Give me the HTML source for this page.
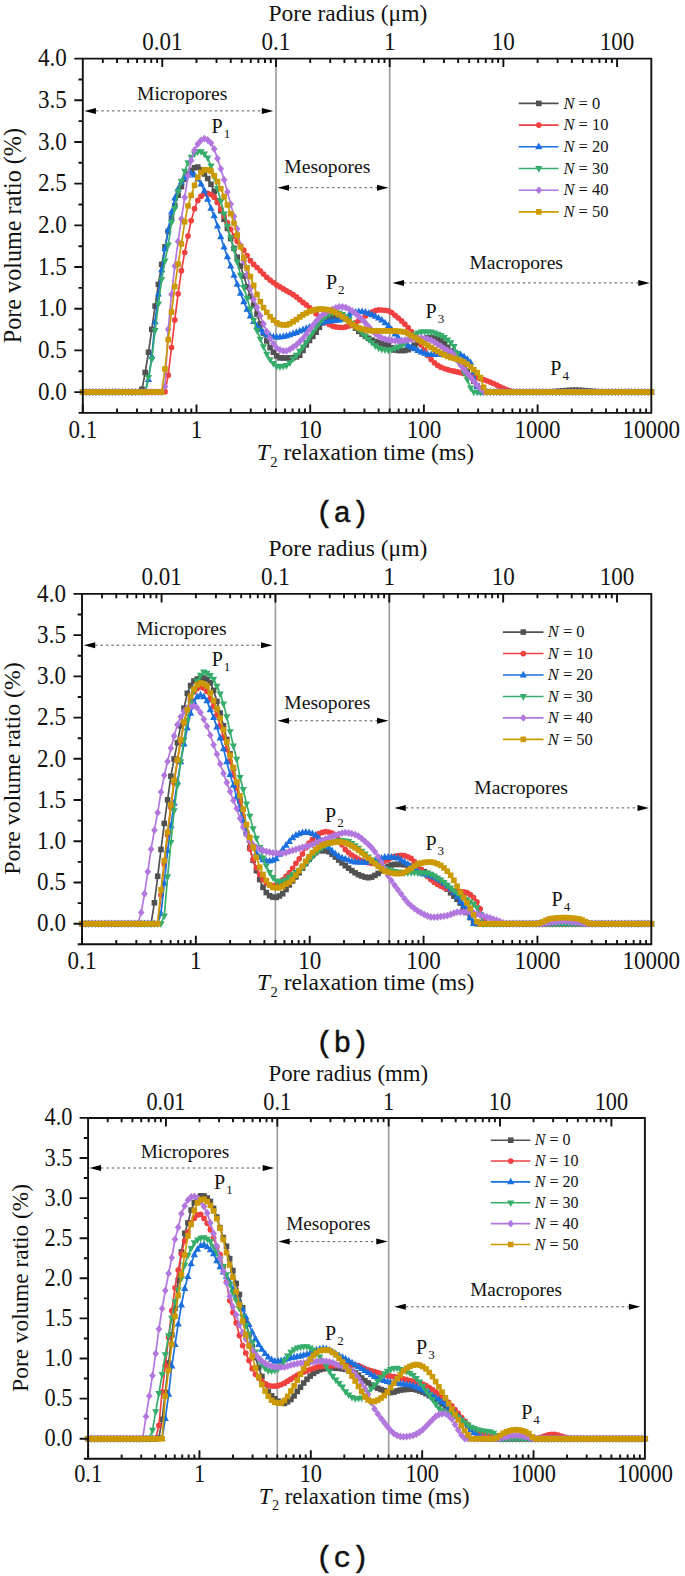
<!DOCTYPE html>
<html><head><meta charset="utf-8"><style>
html,body{margin:0;padding:0;background:#fff;}
svg{display:block;}
</style></head><body>
<svg width="685" height="1576" viewBox="0 0 685 1576">
<defs>
<marker id="m0" markerUnits="userSpaceOnUse" markerWidth="10" markerHeight="10" viewBox="-5 -5 10 10" refX="0" refY="0" overflow="visible"><g fill="#515151"><rect x="-2.8" y="-2.8" width="5.6" height="5.6"/></g></marker>
<marker id="m1" markerUnits="userSpaceOnUse" markerWidth="10" markerHeight="10" viewBox="-5 -5 10 10" refX="0" refY="0" overflow="visible"><g fill="#F14040"><circle r="2.85"/></g></marker>
<marker id="m2" markerUnits="userSpaceOnUse" markerWidth="10" markerHeight="10" viewBox="-5 -5 10 10" refX="0" refY="0" overflow="visible"><g fill="#1A6FDF"><path d="M0,-4.2 L3.6,2.4 L-3.6,2.4Z"/></g></marker>
<marker id="m3" markerUnits="userSpaceOnUse" markerWidth="10" markerHeight="10" viewBox="-5 -5 10 10" refX="0" refY="0" overflow="visible"><g fill="#37AD6B"><path d="M0,4.2 L3.6,-2.4 L-3.6,-2.4Z"/></g></marker>
<marker id="m4" markerUnits="userSpaceOnUse" markerWidth="10" markerHeight="10" viewBox="-5 -5 10 10" refX="0" refY="0" overflow="visible"><g fill="#B177DE"><path d="M0,-3.9 L3.3,0 L0,3.9 L-3.3,0Z"/></g></marker>
<marker id="m5" markerUnits="userSpaceOnUse" markerWidth="10" markerHeight="10" viewBox="-5 -5 10 10" refX="0" refY="0" overflow="visible"><g fill="#CC9900"><rect x="-2.8" y="-2.8" width="5.6" height="5.6"/></g></marker>
<symbol id="s0" overflow="visible"><g fill="#515151"><rect x="-2.8" y="-2.8" width="5.6" height="5.6"/></g></symbol><symbol id="s1" overflow="visible"><g fill="#F14040"><circle r="2.85"/></g></symbol><symbol id="s2" overflow="visible"><g fill="#1A6FDF"><path d="M0,-4.2 L3.6,2.4 L-3.6,2.4Z"/></g></symbol><symbol id="s3" overflow="visible"><g fill="#37AD6B"><path d="M0,4.2 L3.6,-2.4 L-3.6,-2.4Z"/></g></symbol><symbol id="s4" overflow="visible"><g fill="#B177DE"><path d="M0,-3.9 L3.3,0 L0,3.9 L-3.3,0Z"/></g></symbol><symbol id="s5" overflow="visible"><g fill="#CC9900"><rect x="-2.8" y="-2.8" width="5.6" height="5.6"/></g></symbol>
</defs>
<rect width="685" height="1576" fill="#fff"/>
<line x1="275.97" y1="58.6" x2="275.97" y2="412.9" stroke="#999" stroke-width="1.6"/>
<line x1="389.67" y1="58.6" x2="389.67" y2="412.9" stroke="#999" stroke-width="1.6"/>
<polyline points="82.8,392.1 86.1,392.1 89.4,392.1 92.7,392.1 95.9,392.1 99.2,392.1 102.5,392.1 105.8,392.1 109.1,392.1 112.4,392.1 115.7,392.1 118.9,392.1 122.2,392.1 125.5,392.1 128.8,392.1 132.1,392.1 135.4,392.1 138.7,392.1 142.0,389.2 145.2,372.5 148.5,352.3 151.8,329.4 155.1,306.1 158.4,284.4 161.7,264.4 165.0,246.9 168.2,231.4 171.5,218.0 174.8,205.8 178.1,195.2 181.4,186.6 184.7,179.3 188.0,174.0 191.2,170.4 194.5,167.7 197.8,167.1 201.1,169.7 204.4,174.0 207.7,178.5 211.0,184.3 214.2,191.4 217.5,201.0 220.8,210.7 224.1,219.3 227.4,228.4 230.7,238.6 234.0,248.4 237.2,257.2 240.5,266.0 243.8,276.0 247.1,286.8 250.4,296.5 253.7,305.3 257.0,314.1 260.3,323.9 263.5,333.1 266.8,340.9 270.1,347.6 273.4,352.2 276.7,355.9 280.0,357.9 283.3,358.0 286.5,358.0 289.8,358.0 293.1,357.7 296.4,356.9 299.7,355.2 303.0,350.4 306.3,344.9 309.5,340.5 312.8,336.4 316.1,332.2 319.4,327.3 322.7,322.9 326.0,320.2 329.3,318.1 332.5,316.9 335.8,316.9 339.1,317.0 342.4,317.3 345.7,319.3 349.0,322.2 352.3,324.9 355.5,328.1 358.8,331.4 362.1,334.1 365.4,336.3 368.7,338.3 372.0,340.1 375.3,341.5 378.6,342.6 381.8,343.5 385.1,344.4 388.4,345.6 391.7,347.8 395.0,350.0 398.3,350.5 401.6,350.5 404.8,350.5 408.1,349.7 411.4,347.6 414.7,345.1 418.0,343.0 421.3,341.1 424.6,339.2 427.8,337.8 431.1,337.5 434.4,338.1 437.7,339.1 441.0,340.5 444.3,343.3 447.6,347.2 450.8,350.9 454.1,354.8 457.4,358.8 460.7,362.9 464.0,367.0 467.3,371.3 470.6,375.8 473.8,381.1 477.1,386.0 480.4,389.7 483.7,392.1 487.0,392.1 490.3,392.1 493.6,392.1 496.9,392.1 500.1,392.1 503.4,392.1 506.7,392.1 510.0,392.1 513.3,392.1 516.6,392.1 519.9,392.1 523.1,392.1 526.4,392.1 529.7,392.1 533.0,392.1 536.3,392.1 539.6,392.1 542.9,392.1 546.1,392.1 549.4,392.0 552.7,391.8 556.0,391.5 559.3,391.2 562.6,390.9 565.9,390.6 569.1,390.4 572.4,390.2 575.7,390.2 579.0,390.3 582.3,390.5 585.6,390.7 588.9,391.0 592.1,391.4 595.4,391.6 598.7,391.9 602.0,392.0 605.3,392.1 608.6,392.1 611.9,392.1 615.2,392.1 618.4,392.1 621.7,392.1 625.0,392.1 628.3,392.1 631.6,392.1 634.9,392.1 638.2,392.1 641.4,392.1 644.7,392.1 648.0,392.1 651.3,392.1" fill="none" stroke="#515151" stroke-width="1.7" marker-start="url(#m0)" marker-mid="url(#m0)" marker-end="url(#m0)"/>
<polyline points="82.8,392.1 86.1,392.1 89.4,392.1 92.7,392.1 95.9,392.1 99.2,392.1 102.5,392.1 105.8,392.1 109.1,392.1 112.4,392.1 115.7,392.1 118.9,392.1 122.2,392.1 125.5,392.1 128.8,392.1 132.1,392.1 135.4,392.1 138.7,392.1 142.0,392.1 145.2,392.1 148.5,392.1 151.8,392.1 155.1,392.1 158.4,392.1 161.7,392.1 165.0,391.7 168.2,375.2 171.5,347.5 174.8,319.9 178.1,293.8 181.4,270.7 184.7,252.5 188.0,236.0 191.2,220.6 194.5,208.7 197.8,200.4 201.1,196.2 204.4,193.6 207.7,193.4 211.0,194.5 214.2,197.2 217.5,202.4 220.8,209.2 224.1,215.9 227.4,222.5 230.7,229.3 234.0,236.2 237.2,241.3 240.5,245.6 243.8,250.1 247.1,255.5 250.4,260.7 253.7,264.4 257.0,267.5 260.3,270.8 263.5,274.1 266.8,277.3 270.1,280.1 273.4,282.6 276.7,284.9 280.0,286.9 283.3,288.9 286.5,290.8 289.8,292.6 293.1,294.6 296.4,296.9 299.7,299.7 303.0,302.4 306.3,304.9 309.5,307.5 312.8,310.4 316.1,313.7 319.4,316.8 322.7,319.9 326.0,322.5 329.3,324.5 332.5,326.1 335.8,326.9 339.1,327.3 342.4,327.5 345.7,326.9 349.0,325.9 352.3,324.6 355.5,322.7 358.8,320.6 362.1,318.5 365.4,316.0 368.7,313.6 372.0,312.0 375.3,310.7 378.6,309.9 381.8,310.0 385.1,310.3 388.4,310.8 391.7,312.5 395.0,315.3 398.3,318.0 401.6,320.9 404.8,324.1 408.1,327.7 411.4,331.5 414.7,335.6 418.0,340.2 421.3,345.0 424.6,350.2 427.8,355.4 431.1,359.5 434.4,362.8 437.7,365.4 441.0,367.2 444.3,368.5 447.6,369.6 450.8,370.5 454.1,371.2 457.4,371.9 460.7,372.7 464.0,373.4 467.3,374.3 470.6,375.3 473.8,376.5 477.1,377.7 480.4,378.7 483.7,379.7 487.0,380.8 490.3,382.1 493.6,383.5 496.9,385.1 500.1,386.9 503.4,388.3 506.7,389.7 510.0,390.9 513.3,391.5 516.6,391.9 519.9,392.1 523.1,392.1 526.4,392.1 529.7,392.1 533.0,392.1 536.3,392.1 539.6,392.1 542.9,392.1 546.1,392.1 549.4,392.1 552.7,392.1 556.0,392.1 559.3,392.1 562.6,392.1 565.9,392.1 569.1,392.1 572.4,392.1 575.7,392.1 579.0,392.1 582.3,392.1 585.6,392.1 588.9,392.1 592.1,392.1 595.4,392.1 598.7,392.1 602.0,392.1 605.3,392.1 608.6,392.1 611.9,392.1 615.2,392.1 618.4,392.1 621.7,392.1 625.0,392.1 628.3,392.1 631.6,392.1 634.9,392.1 638.2,392.1 641.4,392.1 644.7,392.1 648.0,392.1 651.3,392.1" fill="none" stroke="#F14040" stroke-width="1.7" marker-start="url(#m1)" marker-mid="url(#m1)" marker-end="url(#m1)"/>
<polyline points="82.8,392.1 86.1,392.1 89.4,392.1 92.7,392.1 95.9,392.1 99.2,392.1 102.5,392.1 105.8,392.1 109.1,392.1 112.4,392.1 115.7,392.1 118.9,392.1 122.2,392.1 125.5,392.1 128.8,392.1 132.1,392.1 135.4,392.1 138.7,392.1 142.0,392.1 145.2,392.0 148.5,379.7 151.8,356.5 155.1,321.9 158.4,294.1 161.7,269.9 165.0,248.8 168.2,229.8 171.5,212.1 174.8,198.2 178.1,189.0 181.4,182.2 184.7,177.9 188.0,175.1 191.2,173.6 194.5,175.0 197.8,179.1 201.1,184.1 204.4,190.8 207.7,199.4 211.0,208.4 214.2,215.9 217.5,226.2 220.8,236.9 224.1,247.2 227.4,256.9 230.7,266.2 234.0,275.4 237.2,284.4 240.5,293.4 243.8,301.8 247.1,309.4 250.4,316.0 253.7,321.6 257.0,326.3 260.3,329.8 263.5,332.6 266.8,334.7 270.1,335.9 273.4,336.9 276.7,337.2 280.0,337.0 283.3,336.5 286.5,335.9 289.8,334.9 293.1,333.7 296.4,332.5 299.7,331.2 303.0,329.8 306.3,328.5 309.5,327.2 312.8,325.9 316.1,324.4 319.4,323.2 322.7,322.4 326.0,321.7 329.3,321.2 332.5,320.9 335.8,320.6 339.1,320.1 342.4,319.1 345.7,317.6 349.0,315.1 352.3,312.8 355.5,312.1 358.8,311.7 362.1,311.6 365.4,312.2 368.7,313.5 372.0,314.8 375.3,316.3 378.6,318.1 381.8,320.2 385.1,322.9 388.4,325.9 391.7,329.7 395.0,334.0 398.3,337.7 401.6,341.0 404.8,343.6 408.1,345.5 411.4,347.1 414.7,348.9 418.0,350.5 421.3,352.0 424.6,353.3 427.8,354.4 431.1,354.7 434.4,354.7 437.7,354.6 441.0,354.4 444.3,353.9 447.6,353.2 450.8,353.0 454.1,353.3 457.4,353.7 460.7,354.7 464.0,356.8 467.3,359.3 470.6,362.7 473.8,372.4 477.1,386.6 480.4,392.1 483.7,392.1 487.0,392.1 490.3,392.1 493.6,392.1 496.9,392.1 500.1,392.1 503.4,392.1 506.7,392.1 510.0,392.1 513.3,392.1 516.6,392.1 519.9,392.1 523.1,392.1 526.4,392.1 529.7,392.1 533.0,392.1 536.3,392.1 539.6,392.1 542.9,392.1 546.1,392.1 549.4,392.1 552.7,392.1 556.0,392.1 559.3,392.1 562.6,392.1 565.9,392.1 569.1,392.1 572.4,392.1 575.7,392.1 579.0,392.1 582.3,392.1 585.6,392.1 588.9,392.1 592.1,392.1 595.4,392.1 598.7,392.1 602.0,392.1 605.3,392.1 608.6,392.1 611.9,392.1 615.2,392.1 618.4,392.1 621.7,392.1 625.0,392.1 628.3,392.1 631.6,392.1 634.9,392.1 638.2,392.1 641.4,392.1 644.7,392.1 648.0,392.1 651.3,392.1" fill="none" stroke="#1A6FDF" stroke-width="1.7" marker-start="url(#m2)" marker-mid="url(#m2)" marker-end="url(#m2)"/>
<polyline points="82.8,392.1 86.1,392.1 89.4,392.1 92.7,392.1 95.9,392.1 99.2,392.1 102.5,392.1 105.8,392.1 109.1,392.1 112.4,392.1 115.7,392.1 118.9,392.1 122.2,392.1 125.5,392.1 128.8,392.1 132.1,392.1 135.4,392.1 138.7,392.1 142.0,392.1 145.2,391.9 148.5,377.5 151.8,359.2 155.1,330.5 158.4,303.9 161.7,279.4 165.0,260.8 168.2,245.0 171.5,222.5 174.8,208.5 178.1,191.5 181.4,181.2 184.7,171.1 188.0,162.7 191.2,157.2 194.5,153.8 197.8,151.7 201.1,151.6 204.4,154.0 207.7,157.9 211.0,165.9 214.2,176.8 217.5,188.7 220.8,201.3 224.1,213.8 227.4,226.2 230.7,237.9 234.0,249.4 237.2,261.8 240.5,275.2 243.8,287.4 247.1,298.2 250.4,308.9 253.7,320.2 257.0,330.5 260.3,339.1 263.5,346.7 266.8,354.1 270.1,359.6 273.4,363.5 276.7,366.2 280.0,366.7 283.3,366.2 286.5,365.5 289.8,362.8 293.1,358.9 296.4,355.2 299.7,351.2 303.0,347.0 306.3,342.1 309.5,337.0 312.8,332.2 316.1,327.3 319.4,322.9 322.7,319.0 326.0,316.0 329.3,314.1 332.5,313.0 335.8,313.0 339.1,313.2 342.4,314.5 345.7,316.8 349.0,319.6 352.3,323.1 355.5,326.3 358.8,329.6 362.1,332.9 365.4,336.3 368.7,339.5 372.0,342.6 375.3,345.7 378.6,348.1 381.8,349.2 385.1,349.9 388.4,350.2 391.7,349.6 395.0,348.4 398.3,347.0 401.6,345.4 404.8,343.2 408.1,340.0 411.4,336.8 414.7,334.6 418.0,332.8 421.3,332.0 424.6,331.9 427.8,331.9 431.1,332.0 434.4,332.8 437.7,334.1 441.0,335.5 444.3,337.4 447.6,339.8 450.8,342.6 454.1,346.4 457.4,353.3 460.7,362.9 464.0,372.6 467.3,379.6 470.6,387.8 473.8,392.1 477.1,392.1 480.4,392.1 483.7,392.1 487.0,392.1 490.3,392.1 493.6,392.1 496.9,392.1 500.1,392.1 503.4,392.1 506.7,392.1 510.0,392.1 513.3,392.1 516.6,392.1 519.9,392.1 523.1,392.1 526.4,392.1 529.7,392.1 533.0,392.1 536.3,392.1 539.6,392.1 542.9,392.1 546.1,392.1 549.4,392.1 552.7,392.1 556.0,392.1 559.3,392.1 562.6,392.1 565.9,392.1 569.1,392.1 572.4,392.1 575.7,392.1 579.0,392.1 582.3,392.1 585.6,392.1 588.9,392.1 592.1,392.1 595.4,392.1 598.7,392.1 602.0,392.1 605.3,392.1 608.6,392.1 611.9,392.1 615.2,392.1 618.4,392.1 621.7,392.1 625.0,392.1 628.3,392.1 631.6,392.1 634.9,392.1 638.2,392.1 641.4,392.1 644.7,392.1 648.0,392.1 651.3,392.1" fill="none" stroke="#37AD6B" stroke-width="1.7" marker-start="url(#m3)" marker-mid="url(#m3)" marker-end="url(#m3)"/>
<polyline points="82.8,392.1 86.1,392.1 89.4,392.1 92.7,392.1 95.9,392.1 99.2,392.1 102.5,392.1 105.8,392.1 109.1,392.1 112.4,392.1 115.7,392.1 118.9,392.1 122.2,392.1 125.5,392.1 128.8,392.1 132.1,392.1 135.4,392.1 138.7,392.1 142.0,392.1 145.2,392.1 148.5,392.1 151.8,392.1 155.1,392.1 158.4,392.1 161.7,392.1 165.0,386.4 168.2,329.5 171.5,294.4 174.8,266.1 178.1,241.5 181.4,219.0 184.7,197.4 188.0,175.7 191.2,160.4 194.5,150.2 197.8,144.0 201.1,140.3 204.4,138.6 207.7,140.0 211.0,143.1 214.2,149.0 217.5,158.6 220.8,168.8 224.1,179.8 227.4,191.9 230.7,204.1 234.0,216.3 237.2,228.9 240.5,245.5 243.8,261.3 247.1,275.0 250.4,288.6 253.7,299.3 257.0,307.5 260.3,315.7 263.5,324.0 266.8,331.6 270.1,338.5 273.4,343.7 276.7,347.9 280.0,349.9 283.3,350.9 286.5,350.9 289.8,349.4 293.1,347.2 296.4,344.8 299.7,341.7 303.0,338.3 306.3,334.2 309.5,329.7 312.8,325.4 316.1,321.2 319.4,317.5 322.7,314.7 326.0,312.5 329.3,310.8 332.5,309.3 335.8,307.8 339.1,306.8 342.4,307.0 345.7,307.5 349.0,309.1 352.3,311.1 355.5,313.5 358.8,316.3 362.1,319.5 365.4,323.0 368.7,326.6 372.0,330.5 375.3,333.7 378.6,336.1 381.8,338.0 385.1,339.2 388.4,339.9 391.7,340.4 395.0,340.7 398.3,341.0 401.6,340.9 404.8,340.5 408.1,339.8 411.4,339.3 414.7,338.7 418.0,338.2 421.3,338.0 424.6,338.3 427.8,339.1 431.1,340.2 434.4,342.1 437.7,344.3 441.0,346.3 444.3,348.4 447.6,350.3 450.8,351.8 454.1,354.9 457.4,360.5 460.7,365.2 464.0,369.5 467.3,373.6 470.6,377.4 473.8,381.2 477.1,385.2 480.4,388.7 483.7,391.6 487.0,392.1 490.3,392.1 493.6,392.1 496.9,392.1 500.1,392.1 503.4,392.1 506.7,392.1 510.0,392.1 513.3,392.1 516.6,392.1 519.9,392.1 523.1,392.1 526.4,392.1 529.7,392.1 533.0,392.1 536.3,392.1 539.6,392.1 542.9,392.1 546.1,392.1 549.4,392.1 552.7,392.1 556.0,392.1 559.3,392.1 562.6,392.1 565.9,392.1 569.1,392.1 572.4,392.1 575.7,392.1 579.0,392.1 582.3,392.1 585.6,392.1 588.9,392.1 592.1,392.1 595.4,392.1 598.7,392.1 602.0,392.1 605.3,392.1 608.6,392.1 611.9,392.1 615.2,392.1 618.4,392.1 621.7,392.1 625.0,392.1 628.3,392.1 631.6,392.1 634.9,392.1 638.2,392.1 641.4,392.1 644.7,392.1 648.0,392.1 651.3,392.1" fill="none" stroke="#B177DE" stroke-width="1.7" marker-start="url(#m4)" marker-mid="url(#m4)" marker-end="url(#m4)"/>
<polyline points="82.8,392.1 86.1,392.1 89.4,392.1 92.7,392.1 95.9,392.1 99.2,392.1 102.5,392.1 105.8,392.1 109.1,392.1 112.4,392.1 115.7,392.1 118.9,392.1 122.2,392.1 125.5,392.1 128.8,392.1 132.1,392.1 135.4,392.1 138.7,392.1 142.0,392.1 145.2,392.1 148.5,392.1 151.8,392.1 155.1,392.1 158.4,392.1 161.7,392.1 165.0,369.0 168.2,339.6 171.5,312.1 174.8,286.6 178.1,264.1 181.4,243.9 184.7,221.8 188.0,205.9 191.2,195.4 194.5,185.3 197.8,177.3 201.1,172.4 204.4,169.8 207.7,169.8 211.0,171.1 214.2,175.7 217.5,181.5 220.8,188.7 224.1,196.5 227.4,204.9 230.7,213.8 234.0,223.4 237.2,235.2 240.5,246.9 243.8,257.9 247.1,267.8 250.4,276.6 253.7,285.4 257.0,294.5 260.3,301.7 263.5,307.6 266.8,312.4 270.1,316.7 273.4,320.1 276.7,322.8 280.0,324.5 283.3,324.9 286.5,325.0 289.8,323.7 293.1,321.7 296.4,319.6 299.7,317.0 303.0,314.8 306.3,313.0 309.5,311.4 312.8,310.4 316.1,309.5 319.4,309.0 322.7,309.1 326.0,309.5 329.3,310.0 332.5,311.1 335.8,312.8 339.1,314.6 342.4,316.7 345.7,319.0 349.0,321.9 352.3,324.4 355.5,326.5 358.8,327.9 362.1,329.0 365.4,329.8 368.7,330.4 372.0,330.8 375.3,330.9 378.6,330.9 381.8,330.9 385.1,330.9 388.4,330.9 391.7,330.9 395.0,331.0 398.3,331.2 401.6,331.6 404.8,332.1 408.1,333.7 411.4,335.7 414.7,337.5 418.0,339.5 421.3,341.5 424.6,343.5 427.8,345.5 431.1,347.5 434.4,349.5 437.7,351.4 441.0,353.2 444.3,354.9 447.6,356.4 450.8,357.5 454.1,358.4 457.4,359.4 460.7,360.7 464.0,362.2 467.3,364.2 470.6,366.8 473.8,369.8 477.1,372.7 480.4,377.6 483.7,387.3 487.0,392.1 490.3,392.1 493.6,392.1 496.9,392.1 500.1,392.1 503.4,392.1 506.7,392.1 510.0,392.1 513.3,392.1 516.6,392.1 519.9,392.1 523.1,392.1 526.4,392.1 529.7,392.1 533.0,392.1 536.3,392.1 539.6,392.1 542.9,392.1 546.1,392.1 549.4,392.1 552.7,392.1 556.0,392.1 559.3,392.1 562.6,392.1 565.9,392.1 569.1,392.1 572.4,392.1 575.7,392.1 579.0,392.1 582.3,392.1 585.6,392.1 588.9,392.1 592.1,392.1 595.4,392.1 598.7,392.1 602.0,392.1 605.3,392.1 608.6,392.1 611.9,392.1 615.2,392.1 618.4,392.1 621.7,392.1 625.0,392.1 628.3,392.1 631.6,392.1 634.9,392.1 638.2,392.1 641.4,392.1 644.7,392.1 648.0,392.1 651.3,392.1" fill="none" stroke="#CC9900" stroke-width="1.7" marker-start="url(#m5)" marker-mid="url(#m5)" marker-end="url(#m5)"/>
<path d="M82.8,58.6H651.3V412.9H82.8Z" fill="none" stroke="#111" stroke-width="1.9"/>
<path d="M78.5,412.9H82.8M74.3,392.1H82.8M78.5,371.25H82.8M74.3,350.41H82.8M78.5,329.57H82.8M74.3,308.72H82.8M78.5,287.88H82.8M74.3,267.03H82.8M78.5,246.19H82.8M74.3,225.34H82.8M78.5,204.5H82.8M74.3,183.65H82.8M78.5,162.81H82.8M74.3,141.96H82.8M78.5,121.12H82.8M74.3,100.27H82.8M78.5,79.43H82.8M74.3,58.58H82.8M82.8,412.9v-8.5M117.03,412.9v-4.3M137.05,412.9v-4.3M151.25,412.9v-4.3M162.27,412.9v-4.3M171.28,412.9v-4.3M178.89,412.9v-4.3M185.48,412.9v-4.3M191.3,412.9v-4.3M196.5,412.9v-8.5M230.73,412.9v-4.3M250.75,412.9v-4.3M264.95,412.9v-4.3M275.97,412.9v-4.3M284.98,412.9v-4.3M292.59,412.9v-4.3M299.18,412.9v-4.3M305,412.9v-4.3M310.2,412.9v-8.5M344.43,412.9v-4.3M364.45,412.9v-4.3M378.65,412.9v-4.3M389.67,412.9v-4.3M398.68,412.9v-4.3M406.29,412.9v-4.3M412.88,412.9v-4.3M418.7,412.9v-4.3M423.9,412.9v-8.5M458.13,412.9v-4.3M478.15,412.9v-4.3M492.35,412.9v-4.3M503.37,412.9v-4.3M512.38,412.9v-4.3M519.99,412.9v-4.3M526.58,412.9v-4.3M532.4,412.9v-4.3M537.6,412.9v-8.5M571.83,412.9v-4.3M591.85,412.9v-4.3M606.05,412.9v-4.3M617.07,412.9v-4.3M626.08,412.9v-4.3M633.69,412.9v-4.3M640.28,412.9v-4.3M646.1,412.9v-4.3M102.82,58.6v4.3M117.03,58.6v4.3M128.05,58.6v4.3M137.05,58.6v4.3M144.66,58.6v4.3M151.25,58.6v4.3M157.07,58.6v4.3M162.27,58.6v8.5M196.5,58.6v4.3M216.52,58.6v4.3M230.73,58.6v4.3M241.75,58.6v4.3M250.75,58.6v4.3M258.36,58.6v4.3M264.95,58.6v4.3M270.77,58.6v4.3M275.97,58.6v8.5M310.2,58.6v4.3M330.22,58.6v4.3M344.43,58.6v4.3M355.45,58.6v4.3M364.45,58.6v4.3M372.06,58.6v4.3M378.65,58.6v4.3M384.47,58.6v4.3M389.67,58.6v8.5M423.9,58.6v4.3M443.92,58.6v4.3M458.13,58.6v4.3M469.15,58.6v4.3M478.15,58.6v4.3M485.76,58.6v4.3M492.35,58.6v4.3M498.17,58.6v4.3M503.37,58.6v8.5M537.6,58.6v4.3M557.62,58.6v4.3M571.83,58.6v4.3M582.85,58.6v4.3M591.85,58.6v4.3M599.46,58.6v4.3M606.05,58.6v4.3M611.87,58.6v4.3M617.07,58.6v8.5" stroke="#111" stroke-width="1.9" fill="none"/>
<g style="font-family:'Liberation Serif',serif;font-size:23.5px" fill="#111"><text transform="translate(66.7,399.86) scale(0.98,1.075)" text-anchor="end">0.0</text><text transform="translate(66.7,358.17) scale(0.98,1.075)" text-anchor="end">0.5</text><text transform="translate(66.7,316.48) scale(0.98,1.075)" text-anchor="end">1.0</text><text transform="translate(66.7,274.79) scale(0.98,1.075)" text-anchor="end">1.5</text><text transform="translate(66.7,233.1) scale(0.98,1.075)" text-anchor="end">2.0</text><text transform="translate(66.7,191.41) scale(0.98,1.075)" text-anchor="end">2.5</text><text transform="translate(66.7,149.72) scale(0.98,1.075)" text-anchor="end">3.0</text><text transform="translate(66.7,108.03) scale(0.98,1.075)" text-anchor="end">3.5</text><text transform="translate(66.7,66.34) scale(0.98,1.075)" text-anchor="end">4.0</text><text transform="translate(82.8,438.2) scale(0.98,1.075)" text-anchor="middle">0.1</text><text transform="translate(196.5,438.2) scale(0.98,1.075)" text-anchor="middle">1</text><text transform="translate(310.2,438.2) scale(0.98,1.075)" text-anchor="middle">10</text><text transform="translate(423.9,438.2) scale(0.98,1.075)" text-anchor="middle">100</text><text transform="translate(537.6,438.2) scale(0.98,1.075)" text-anchor="middle">1000</text><text transform="translate(651.3,438.2) scale(0.98,1.075)" text-anchor="middle">10000</text><text transform="translate(162.27,49.6) scale(0.98,1.075)" text-anchor="middle">0.01</text><text transform="translate(275.97,49.6) scale(0.98,1.075)" text-anchor="middle">0.1</text><text transform="translate(389.67,49.6) scale(0.98,1.075)" text-anchor="middle">1</text><text transform="translate(503.37,49.6) scale(0.98,1.075)" text-anchor="middle">10</text><text transform="translate(617.07,49.6) scale(0.98,1.075)" text-anchor="middle">100</text></g>
<text x="268.5" y="20.5" style="font-family:'Liberation Serif',serif;font-size:23.5px" fill="#111">Pore radius (μm)</text>
<text x="256.8" y="460.4" style="font-family:'Liberation Serif',serif;font-size:23.5px" fill="#111"><tspan font-style="italic">T</tspan><tspan font-size="14.57" dy="6.58" dx="0.47">2</tspan><tspan dy="-6.58"> relaxation time (ms)</tspan></text>
<text transform="translate(20.7,342.6) rotate(-90)" x="-0.6" y="0" style="font-family:'Liberation Serif',serif;font-size:24.15px" fill="#111">Pore volume ratio (%)</text>
<text x="137" y="99.8" style="font-family:'Liberation Serif',serif;font-size:19.6px" fill="#111">Micropores</text>
<line x1="95.9" y1="110.9" x2="261.8" y2="110.9" stroke="#555" stroke-width="1.0" stroke-dasharray="2.4 3.0"/>
<path d="M84.4,110.9L95.9,107.9V113.9Z M273.3,110.9L261.8,107.9V113.9Z" fill="#000"/>
<text x="284.3" y="173.1" style="font-family:'Liberation Serif',serif;font-size:19.6px" fill="#111">Mesopores</text>
<line x1="289" y1="187.7" x2="377" y2="187.7" stroke="#555" stroke-width="1.0" stroke-dasharray="2.4 3.0"/>
<path d="M277.5,187.7L289,184.7V190.7Z M388.5,187.7L377,184.7V190.7Z" fill="#000"/>
<text x="469.4" y="269.4" style="font-family:'Liberation Serif',serif;font-size:19.6px" fill="#111">Macropores</text>
<line x1="404" y1="282.9" x2="638.3" y2="282.9" stroke="#555" stroke-width="1.0" stroke-dasharray="2.4 3.0"/>
<path d="M392.5,282.9L404,279.9V285.9Z M649.8,282.9L638.3,279.9V285.9Z" fill="#000"/>
<text x="211.5" y="132.8" style="font-family:'Liberation Serif',serif;font-size:20px" fill="#111">P<tspan font-size="13" dy="5" dx="1">1</tspan></text>
<text x="325.9" y="289.1" style="font-family:'Liberation Serif',serif;font-size:20px" fill="#111">P<tspan font-size="13" dy="5" dx="1">2</tspan></text>
<text x="425.5" y="317.5" style="font-family:'Liberation Serif',serif;font-size:20px" fill="#111">P<tspan font-size="13" dy="5" dx="1">3</tspan></text>
<text x="550.3" y="375.3" style="font-family:'Liberation Serif',serif;font-size:20px" fill="#111">P<tspan font-size="13" dy="5" dx="1">4</tspan></text>
<line x1="518.7" y1="103.4" x2="558.6" y2="103.4" stroke="#515151" stroke-width="1.6"/>
<use href="#s0" x="538.8" y="103.4"/>
<text x="563.4" y="108.68" style="font-family:'Liberation Serif',serif;font-size:16.5px" fill="#111"><tspan font-style="italic">N</tspan> = 0</text>
<line x1="518.7" y1="125.1" x2="558.6" y2="125.1" stroke="#F14040" stroke-width="1.6"/>
<use href="#s1" x="538.8" y="125.1"/>
<text x="563.4" y="130.38" style="font-family:'Liberation Serif',serif;font-size:16.5px" fill="#111"><tspan font-style="italic">N</tspan> = 10</text>
<line x1="518.7" y1="146.8" x2="558.6" y2="146.8" stroke="#1A6FDF" stroke-width="1.6"/>
<use href="#s2" x="538.8" y="146.8"/>
<text x="563.4" y="152.08" style="font-family:'Liberation Serif',serif;font-size:16.5px" fill="#111"><tspan font-style="italic">N</tspan> = 20</text>
<line x1="518.7" y1="168.5" x2="558.6" y2="168.5" stroke="#37AD6B" stroke-width="1.6"/>
<use href="#s3" x="538.8" y="168.5"/>
<text x="563.4" y="173.78" style="font-family:'Liberation Serif',serif;font-size:16.5px" fill="#111"><tspan font-style="italic">N</tspan> = 30</text>
<line x1="518.7" y1="190.2" x2="558.6" y2="190.2" stroke="#B177DE" stroke-width="1.6"/>
<use href="#s4" x="538.8" y="190.2"/>
<text x="563.4" y="195.48" style="font-family:'Liberation Serif',serif;font-size:16.5px" fill="#111"><tspan font-style="italic">N</tspan> = 40</text>
<line x1="518.7" y1="211.9" x2="558.6" y2="211.9" stroke="#CC9900" stroke-width="1.6"/>
<use href="#s5" x="538.8" y="211.9"/>
<text x="563.4" y="217.18" style="font-family:'Liberation Serif',serif;font-size:16.5px" fill="#111"><tspan font-style="italic">N</tspan> = 50</text>
<text x="342.3" y="521.8" text-anchor="middle" style="font-family:'Liberation Mono',monospace;font-size:29.5px" fill="#111" stroke="#111" stroke-width="0.45">(a)</text><line x1="275.44" y1="593.9" x2="275.44" y2="944.3" stroke="#999" stroke-width="1.6"/>
<line x1="389.3" y1="593.9" x2="389.3" y2="944.3" stroke="#999" stroke-width="1.6"/>
<polyline points="82.0,923.7 85.3,923.7 88.6,923.7 91.9,923.7 95.2,923.7 98.5,923.7 101.7,923.7 105.0,923.7 108.3,923.7 111.6,923.7 114.9,923.7 118.2,923.7 121.5,923.7 124.8,923.7 128.1,923.7 131.4,923.7 134.7,923.7 137.9,923.7 141.2,923.7 144.5,923.7 147.8,923.7 151.1,923.7 154.4,902.8 157.7,876.3 161.0,849.5 164.3,823.4 167.6,799.8 170.9,776.2 174.1,759.0 177.4,742.7 180.7,725.9 184.0,708.1 187.3,693.3 190.6,685.5 193.9,681.0 197.2,679.1 200.5,678.3 203.8,678.0 207.0,679.5 210.3,682.8 213.6,690.4 216.9,701.3 220.2,713.1 223.5,725.7 226.8,739.4 230.1,753.9 233.4,768.7 236.7,784.2 240.0,800.7 243.2,817.4 246.5,833.5 249.8,848.0 253.1,860.4 256.4,870.7 259.7,879.6 263.0,887.4 266.3,892.6 269.6,895.7 272.9,897.1 276.2,897.4 279.4,896.0 282.7,893.7 286.0,889.5 289.3,884.9 292.6,880.9 295.9,876.9 299.2,872.7 302.5,868.1 305.8,863.5 309.1,859.2 312.4,855.5 315.6,852.6 318.9,850.7 322.2,850.6 325.5,850.8 328.8,851.7 332.1,854.3 335.4,857.0 338.7,860.0 342.0,862.9 345.3,865.7 348.6,868.2 351.8,870.6 355.1,872.8 358.4,874.7 361.7,876.0 365.0,877.1 368.3,877.7 371.6,877.1 374.9,875.4 378.2,873.4 381.5,870.9 384.7,868.2 388.0,866.4 391.3,865.0 394.6,864.4 397.9,864.4 401.2,864.4 404.5,864.8 407.8,865.5 411.1,866.3 414.4,867.3 417.7,868.6 420.9,870.0 424.2,871.6 427.5,873.3 430.8,875.3 434.1,877.5 437.4,879.9 440.7,882.6 444.0,885.7 447.3,889.2 450.6,892.8 453.9,896.1 457.1,899.4 460.4,903.1 463.7,907.7 467.0,912.5 470.3,917.6 473.6,922.5 476.9,923.7 480.2,923.7 483.5,923.7 486.8,923.7 490.1,923.7 493.3,923.7 496.6,923.7 499.9,923.7 503.2,923.7 506.5,923.7 509.8,923.7 513.1,923.7 516.4,923.7 519.7,923.7 523.0,923.7 526.3,923.7 529.5,923.7 532.8,923.7 536.1,923.7 539.4,923.7 542.7,923.7 546.0,923.7 549.3,923.7 552.6,923.7 555.9,923.7 559.2,923.7 562.4,923.7 565.7,923.7 569.0,923.7 572.3,923.7 575.6,923.7 578.9,923.7 582.2,923.7 585.5,923.7 588.8,923.7 592.1,923.7 595.4,923.7 598.6,923.7 601.9,923.7 605.2,923.7 608.5,923.7 611.8,923.7 615.1,923.7 618.4,923.7 621.7,923.7 625.0,923.7 628.3,923.7 631.6,923.7 634.8,923.7 638.1,923.7 641.4,923.7 644.7,923.7 648.0,923.7 651.3,923.7" fill="none" stroke="#515151" stroke-width="1.7" marker-start="url(#m0)" marker-mid="url(#m0)" marker-end="url(#m0)"/>
<polyline points="82.0,923.7 85.3,923.7 88.6,923.7 91.9,923.7 95.2,923.7 98.5,923.7 101.7,923.7 105.0,923.7 108.3,923.7 111.6,923.7 114.9,923.7 118.2,923.7 121.5,923.7 124.8,923.7 128.1,923.7 131.4,923.7 134.7,923.7 137.9,923.7 141.2,923.7 144.5,923.7 147.8,923.7 151.1,923.7 154.4,923.7 157.7,923.5 161.0,895.1 164.3,864.0 167.6,835.1 170.9,807.4 174.1,783.0 177.4,761.1 180.7,741.2 184.0,722.9 187.3,709.7 190.6,699.0 193.9,691.9 197.2,688.6 200.5,687.0 203.8,688.1 207.0,691.5 210.3,698.9 213.6,706.4 216.9,715.1 220.2,726.0 223.5,737.3 226.8,749.3 230.1,761.6 233.4,774.9 236.7,787.7 240.0,801.8 243.2,817.5 246.5,833.6 249.8,849.1 253.1,859.6 256.4,867.8 259.7,874.4 263.0,879.4 266.3,882.6 269.6,884.9 272.9,885.7 276.2,884.8 279.4,883.1 282.7,879.8 286.0,876.4 289.3,872.8 292.6,868.4 295.9,863.3 299.2,858.8 302.5,853.9 305.8,847.7 309.1,843.0 312.4,839.3 315.6,836.1 318.9,833.7 322.2,832.4 325.5,831.7 328.8,832.0 332.1,833.0 335.4,835.1 338.7,839.6 342.0,844.7 345.3,849.6 348.6,852.6 351.8,855.0 355.1,857.0 358.4,859.0 361.7,860.8 365.0,862.0 368.3,862.7 371.6,863.3 374.9,863.5 378.2,863.1 381.5,862.2 384.7,861.1 388.0,859.7 391.3,857.8 394.6,856.4 397.9,855.7 401.2,855.3 404.5,855.6 407.8,856.8 411.1,858.4 414.4,861.7 417.7,865.6 420.9,869.3 424.2,873.1 427.5,876.4 430.8,879.5 434.1,882.2 437.4,884.3 440.7,886.1 444.0,887.6 447.3,888.7 450.6,889.7 453.9,890.5 457.1,891.1 460.4,891.5 463.7,891.9 467.0,892.7 470.3,894.7 473.6,897.5 476.9,901.9 480.2,908.8 483.5,919.2 486.8,923.7 490.1,923.7 493.3,923.7 496.6,923.7 499.9,923.7 503.2,923.7 506.5,923.7 509.8,923.7 513.1,923.7 516.4,923.7 519.7,923.7 523.0,923.7 526.3,923.7 529.5,923.7 532.8,923.7 536.1,923.7 539.4,923.7 542.7,923.7 546.0,923.7 549.3,923.7 552.6,923.7 555.9,923.7 559.2,923.7 562.4,923.7 565.7,923.7 569.0,923.7 572.3,923.7 575.6,923.7 578.9,923.7 582.2,923.7 585.5,923.7 588.8,923.7 592.1,923.7 595.4,923.7 598.6,923.7 601.9,923.7 605.2,923.7 608.5,923.7 611.8,923.7 615.1,923.7 618.4,923.7 621.7,923.7 625.0,923.7 628.3,923.7 631.6,923.7 634.8,923.7 638.1,923.7 641.4,923.7 644.7,923.7 648.0,923.7 651.3,923.7" fill="none" stroke="#F14040" stroke-width="1.7" marker-start="url(#m1)" marker-mid="url(#m1)" marker-end="url(#m1)"/>
<polyline points="82.0,923.7 85.3,923.7 88.6,923.7 91.9,923.7 95.2,923.7 98.5,923.7 101.7,923.7 105.0,923.7 108.3,923.7 111.6,923.7 114.9,923.7 118.2,923.7 121.5,923.7 124.8,923.7 128.1,923.7 131.4,923.7 134.7,923.7 137.9,923.7 141.2,923.7 144.5,923.7 147.8,923.7 151.1,923.7 154.4,923.7 157.7,923.7 161.0,913.6 164.3,883.4 167.6,850.8 170.9,825.9 174.1,803.3 177.4,781.8 180.7,761.9 184.0,744.0 187.3,727.9 190.6,713.4 193.9,702.1 197.2,696.8 200.5,695.0 203.8,696.8 207.0,700.9 210.3,709.8 213.6,717.6 216.9,727.2 220.2,738.0 223.5,748.9 226.8,761.8 230.1,774.7 233.4,785.4 236.7,796.9 240.0,809.3 243.2,820.7 246.5,830.9 249.8,839.8 253.1,847.6 256.4,853.1 259.7,857.4 263.0,859.8 266.3,860.9 269.6,861.0 272.9,860.3 276.2,858.9 279.4,854.4 282.7,849.4 286.0,845.3 289.3,841.5 292.6,837.8 295.9,835.3 299.2,833.8 302.5,832.7 305.8,832.3 309.1,832.7 312.4,833.7 315.6,835.3 318.9,838.2 322.2,841.3 325.5,844.4 328.8,847.6 332.1,851.0 335.4,853.9 338.7,856.3 342.0,857.9 345.3,859.0 348.6,860.2 351.8,861.4 355.1,862.0 358.4,862.1 361.7,862.3 365.0,862.3 368.3,862.1 371.6,861.4 374.9,860.6 378.2,859.6 381.5,858.3 384.7,857.3 388.0,857.2 391.3,857.3 394.6,857.5 397.9,858.2 401.2,860.0 404.5,862.0 407.8,864.2 411.1,866.4 414.4,869.0 417.7,871.5 420.9,873.1 424.2,874.0 427.5,874.8 430.8,875.8 434.1,877.2 437.4,879.0 440.7,880.9 444.0,883.3 447.3,886.0 450.6,889.1 453.9,892.7 457.1,896.8 460.4,902.1 463.7,905.7 467.0,909.7 470.3,917.3 473.6,923.5 476.9,923.7 480.2,923.7 483.5,923.7 486.8,923.7 490.1,923.7 493.3,923.7 496.6,923.7 499.9,923.7 503.2,923.7 506.5,923.7 509.8,923.7 513.1,923.7 516.4,923.7 519.7,923.7 523.0,923.7 526.3,923.7 529.5,923.7 532.8,923.7 536.1,923.7 539.4,923.7 542.7,923.7 546.0,923.7 549.3,923.7 552.6,923.7 555.9,923.7 559.2,923.7 562.4,923.7 565.7,923.7 569.0,923.7 572.3,923.7 575.6,923.7 578.9,923.7 582.2,923.7 585.5,923.7 588.8,923.7 592.1,923.7 595.4,923.7 598.6,923.7 601.9,923.7 605.2,923.7 608.5,923.7 611.8,923.7 615.1,923.7 618.4,923.7 621.7,923.7 625.0,923.7 628.3,923.7 631.6,923.7 634.8,923.7 638.1,923.7 641.4,923.7 644.7,923.7 648.0,923.7 651.3,923.7" fill="none" stroke="#1A6FDF" stroke-width="1.7" marker-start="url(#m2)" marker-mid="url(#m2)" marker-end="url(#m2)"/>
<polyline points="82.0,923.7 85.3,923.7 88.6,923.7 91.9,923.7 95.2,923.7 98.5,923.7 101.7,923.7 105.0,923.7 108.3,923.7 111.6,923.7 114.9,923.7 118.2,923.7 121.5,923.7 124.8,923.7 128.1,923.7 131.4,923.7 134.7,923.7 137.9,923.7 141.2,923.7 144.5,923.7 147.8,923.7 151.1,923.7 154.4,923.7 157.7,923.7 161.0,923.7 164.3,915.8 167.6,876.7 170.9,842.4 174.1,810.7 177.4,785.3 180.7,761.7 184.0,740.0 187.3,720.3 190.6,703.3 193.9,690.5 197.2,681.1 200.5,675.2 203.8,672.0 207.0,673.1 210.3,675.5 213.6,679.1 216.9,686.1 220.2,693.9 223.5,703.8 226.8,716.7 230.1,731.6 233.4,746.0 236.7,759.2 240.0,777.3 243.2,789.5 246.5,803.8 249.8,816.1 253.1,828.6 256.4,838.2 259.7,847.5 263.0,857.9 266.3,865.9 269.6,872.4 272.9,877.5 276.2,880.9 279.4,881.7 282.7,881.1 286.0,879.8 289.3,877.2 292.6,874.6 295.9,872.4 299.2,870.2 302.5,867.4 305.8,863.7 309.1,860.0 312.4,856.5 315.6,853.3 318.9,850.2 322.2,847.7 325.5,845.3 328.8,843.5 332.1,842.2 335.4,841.2 338.7,840.6 342.0,840.5 345.3,840.8 348.6,841.4 351.8,843.3 355.1,845.6 358.4,848.1 361.7,851.1 365.0,854.0 368.3,856.9 371.6,859.8 374.9,862.4 378.2,864.7 381.5,866.8 384.7,868.4 388.0,869.7 391.3,870.7 394.6,871.4 397.9,871.9 401.2,872.3 404.5,872.5 407.8,872.5 411.1,872.6 414.4,872.6 417.7,872.7 420.9,872.8 424.2,872.9 427.5,873.1 430.8,874.2 434.1,875.9 437.4,877.9 440.7,879.9 444.0,882.4 447.3,885.2 450.6,888.0 453.9,890.5 457.1,892.9 460.4,895.1 463.7,897.4 467.0,899.7 470.3,901.8 473.6,904.1 476.9,907.6 480.2,914.5 483.5,923.7 486.8,923.7 490.1,923.7 493.3,923.7 496.6,923.7 499.9,923.7 503.2,923.7 506.5,923.7 509.8,923.7 513.1,923.7 516.4,923.7 519.7,923.7 523.0,923.7 526.3,923.7 529.5,923.7 532.8,923.7 536.1,923.7 539.4,923.7 542.7,923.7 546.0,923.7 549.3,923.7 552.6,923.7 555.9,923.7 559.2,923.7 562.4,923.7 565.7,923.7 569.0,923.7 572.3,923.7 575.6,923.7 578.9,923.7 582.2,923.7 585.5,923.7 588.8,923.7 592.1,923.7 595.4,923.7 598.6,923.7 601.9,923.7 605.2,923.7 608.5,923.7 611.8,923.7 615.1,923.7 618.4,923.7 621.7,923.7 625.0,923.7 628.3,923.7 631.6,923.7 634.8,923.7 638.1,923.7 641.4,923.7 644.7,923.7 648.0,923.7 651.3,923.7" fill="none" stroke="#37AD6B" stroke-width="1.7" marker-start="url(#m3)" marker-mid="url(#m3)" marker-end="url(#m3)"/>
<polyline points="82.0,923.7 85.3,923.7 88.6,923.7 91.9,923.7 95.2,923.7 98.5,923.7 101.7,923.7 105.0,923.7 108.3,923.7 111.6,923.7 114.9,923.7 118.2,923.7 121.5,923.7 124.8,923.7 128.1,923.7 131.4,923.7 134.7,923.7 137.9,923.7 141.2,912.4 144.5,893.8 147.8,871.7 151.1,849.2 154.4,830.2 157.7,812.7 161.0,792.1 164.3,775.3 167.6,761.4 170.9,748.2 174.1,736.0 177.4,724.7 180.7,716.8 184.0,711.5 187.3,708.1 190.6,706.5 193.9,705.9 197.2,707.9 200.5,712.6 203.8,719.3 207.0,726.3 210.3,735.2 213.6,744.8 216.9,754.2 220.2,763.9 223.5,773.4 226.8,782.5 230.1,791.6 233.4,800.4 236.7,808.6 240.0,818.3 243.2,827.2 246.5,834.8 249.8,840.8 253.1,844.8 256.4,847.3 259.7,849.2 263.0,850.5 266.3,851.5 269.6,852.2 272.9,852.8 276.2,853.2 279.4,853.3 282.7,853.1 286.0,852.6 289.3,851.4 292.6,850.3 295.9,849.4 299.2,848.4 302.5,847.5 305.8,846.6 309.1,845.6 312.4,844.5 315.6,843.2 318.9,841.8 322.2,840.4 325.5,839.1 328.8,837.8 332.1,836.5 335.4,835.2 338.7,834.1 342.0,833.2 345.3,832.7 348.6,833.0 351.8,833.7 355.1,834.6 358.4,836.1 361.7,838.5 365.0,841.3 368.3,844.3 371.6,847.7 374.9,851.7 378.2,856.6 381.5,862.4 384.7,869.0 388.0,875.5 391.3,880.6 394.6,885.3 397.9,889.7 401.2,894.1 404.5,898.7 407.8,902.7 411.1,905.8 414.4,908.5 417.7,910.8 420.9,912.7 424.2,914.5 427.5,916.0 430.8,917.0 434.1,917.2 437.4,917.0 440.7,916.6 444.0,916.2 447.3,915.6 450.6,914.5 453.9,913.2 457.1,912.2 460.4,912.0 463.7,912.0 467.0,912.0 470.3,912.0 473.6,912.8 476.9,914.0 480.2,915.0 483.5,916.0 486.8,917.0 490.1,918.0 493.3,919.1 496.6,920.2 499.9,921.4 503.2,922.9 506.5,923.7 509.8,923.7 513.1,923.7 516.4,923.7 519.7,923.7 523.0,923.7 526.3,923.7 529.5,923.7 532.8,923.7 536.1,923.7 539.4,923.7 542.7,923.5 546.0,923.1 549.3,922.7 552.6,922.2 555.9,921.8 559.2,921.4 562.4,921.2 565.7,921.2 569.0,921.4 572.3,921.8 575.6,922.3 578.9,922.7 582.2,923.2 585.5,923.5 588.8,923.7 592.1,923.7 595.4,923.7 598.6,923.7 601.9,923.7 605.2,923.7 608.5,923.7 611.8,923.7 615.1,923.7 618.4,923.7 621.7,923.7 625.0,923.7 628.3,923.7 631.6,923.7 634.8,923.7 638.1,923.7 641.4,923.7 644.7,923.7 648.0,923.7 651.3,923.7" fill="none" stroke="#B177DE" stroke-width="1.7" marker-start="url(#m4)" marker-mid="url(#m4)" marker-end="url(#m4)"/>
<polyline points="82.0,923.7 85.3,923.7 88.6,923.7 91.9,923.7 95.2,923.7 98.5,923.7 101.7,923.7 105.0,923.7 108.3,923.7 111.6,923.7 114.9,923.7 118.2,923.7 121.5,923.7 124.8,923.7 128.1,923.7 131.4,923.7 134.7,923.7 137.9,923.7 141.2,923.7 144.5,923.7 147.8,923.7 151.1,923.7 154.4,923.7 157.7,923.7 161.0,889.8 164.3,860.6 167.6,832.2 170.9,804.9 174.1,780.3 177.4,760.0 180.7,739.8 184.0,722.0 187.3,709.8 190.6,696.2 193.9,689.2 197.2,684.8 200.5,683.0 203.8,683.9 207.0,686.1 210.3,692.7 213.6,700.6 216.9,708.7 220.2,718.2 223.5,729.7 226.8,741.9 230.1,755.4 233.4,767.6 236.7,782.1 240.0,795.8 243.2,809.2 246.5,824.7 249.8,837.4 253.1,847.3 256.4,857.4 259.7,867.2 263.0,874.5 266.3,880.5 269.6,885.0 272.9,887.4 276.2,887.7 279.4,887.7 282.7,886.5 286.0,884.2 289.3,882.5 292.6,879.6 295.9,875.2 299.2,870.7 302.5,866.0 305.8,861.3 309.1,856.7 312.4,852.6 315.6,849.7 318.9,847.2 322.2,845.4 325.5,844.0 328.8,843.0 332.1,842.5 335.4,842.1 338.7,841.9 342.0,842.1 345.3,842.9 348.6,844.1 351.8,845.9 355.1,847.8 358.4,850.1 361.7,852.8 365.0,855.6 368.3,858.3 371.6,861.0 374.9,863.6 378.2,866.2 381.5,868.8 384.7,871.0 388.0,872.1 391.3,873.0 394.6,873.5 397.9,873.6 401.2,873.4 404.5,872.3 407.8,870.3 411.1,868.3 414.4,866.1 417.7,864.1 420.9,863.1 424.2,862.5 427.5,862.1 430.8,862.0 434.1,862.6 437.4,863.8 440.7,865.4 444.0,867.9 447.3,871.2 450.6,875.3 453.9,880.3 457.1,886.2 460.4,892.4 463.7,897.6 467.0,902.8 470.3,908.3 473.6,914.9 476.9,921.6 480.2,923.7 483.5,923.7 486.8,923.7 490.1,923.7 493.3,923.7 496.6,923.7 499.9,923.7 503.2,923.7 506.5,923.7 509.8,923.7 513.1,923.7 516.4,923.7 519.7,923.7 523.0,923.7 526.3,923.7 529.5,923.7 532.8,923.7 536.1,923.7 539.4,923.2 542.7,921.9 546.0,920.3 549.3,919.0 552.6,918.5 555.9,918.1 559.2,917.8 562.4,917.6 565.7,917.6 569.0,917.8 572.3,918.1 575.6,918.5 578.9,918.9 582.2,920.1 585.5,921.7 588.8,923.1 592.1,923.7 595.4,923.7 598.6,923.7 601.9,923.7 605.2,923.7 608.5,923.7 611.8,923.7 615.1,923.7 618.4,923.7 621.7,923.7 625.0,923.7 628.3,923.7 631.6,923.7 634.8,923.7 638.1,923.7 641.4,923.7 644.7,923.7 648.0,923.7 651.3,923.7" fill="none" stroke="#CC9900" stroke-width="1.7" marker-start="url(#m5)" marker-mid="url(#m5)" marker-end="url(#m5)"/>
<path d="M82,593.9H651.3V944.3H82Z" fill="none" stroke="#111" stroke-width="1.9"/>
<path d="M77.7,944.3H82M73.5,923.7H82M77.7,903.09H82M73.5,882.48H82M77.7,861.86H82M73.5,841.25H82M77.7,820.64H82M73.5,800.03H82M77.7,779.41H82M73.5,758.8H82M77.7,738.19H82M73.5,717.58H82M77.7,696.96H82M73.5,676.35H82M77.7,655.74H82M73.5,635.12H82M77.7,614.51H82M73.5,593.9H82M82,944.3v-8.5M116.28,944.3v-4.3M136.33,944.3v-4.3M150.55,944.3v-4.3M161.58,944.3v-4.3M170.6,944.3v-4.3M178.22,944.3v-4.3M184.83,944.3v-4.3M190.65,944.3v-4.3M195.86,944.3v-8.5M230.14,944.3v-4.3M250.19,944.3v-4.3M264.41,944.3v-4.3M275.44,944.3v-4.3M284.46,944.3v-4.3M292.08,944.3v-4.3M298.69,944.3v-4.3M304.51,944.3v-4.3M309.72,944.3v-8.5M344,944.3v-4.3M364.05,944.3v-4.3M378.27,944.3v-4.3M389.3,944.3v-4.3M398.32,944.3v-4.3M405.94,944.3v-4.3M412.55,944.3v-4.3M418.37,944.3v-4.3M423.58,944.3v-8.5M457.86,944.3v-4.3M477.91,944.3v-4.3M492.13,944.3v-4.3M503.16,944.3v-4.3M512.18,944.3v-4.3M519.8,944.3v-4.3M526.41,944.3v-4.3M532.23,944.3v-4.3M537.44,944.3v-8.5M571.72,944.3v-4.3M591.77,944.3v-4.3M605.99,944.3v-4.3M617.02,944.3v-4.3M626.04,944.3v-4.3M633.66,944.3v-4.3M640.27,944.3v-4.3M646.09,944.3v-4.3M102.05,593.9v4.3M116.28,593.9v4.3M127.31,593.9v4.3M136.33,593.9v4.3M143.95,593.9v4.3M150.55,593.9v4.3M156.37,593.9v4.3M161.58,593.9v8.5M195.86,593.9v4.3M215.91,593.9v4.3M230.14,593.9v4.3M241.17,593.9v4.3M250.19,593.9v4.3M257.81,593.9v4.3M264.41,593.9v4.3M270.23,593.9v4.3M275.44,593.9v8.5M309.72,593.9v4.3M329.77,593.9v4.3M344,593.9v4.3M355.03,593.9v4.3M364.05,593.9v4.3M371.67,593.9v4.3M378.27,593.9v4.3M384.09,593.9v4.3M389.3,593.9v8.5M423.58,593.9v4.3M443.63,593.9v4.3M457.86,593.9v4.3M468.89,593.9v4.3M477.91,593.9v4.3M485.53,593.9v4.3M492.13,593.9v4.3M497.95,593.9v4.3M503.16,593.9v8.5M537.44,593.9v4.3M557.49,593.9v4.3M571.72,593.9v4.3M582.75,593.9v4.3M591.77,593.9v4.3M599.39,593.9v4.3M605.99,593.9v4.3M611.81,593.9v4.3M617.02,593.9v8.5" stroke="#111" stroke-width="1.9" fill="none"/>
<g style="font-family:'Liberation Serif',serif;font-size:23.5px" fill="#111"><text transform="translate(65.9,931.46) scale(0.98,1.075)" text-anchor="end">0.0</text><text transform="translate(65.9,890.23) scale(0.98,1.075)" text-anchor="end">0.5</text><text transform="translate(65.9,849) scale(0.98,1.075)" text-anchor="end">1.0</text><text transform="translate(65.9,807.78) scale(0.98,1.075)" text-anchor="end">1.5</text><text transform="translate(65.9,766.56) scale(0.98,1.075)" text-anchor="end">2.0</text><text transform="translate(65.9,725.33) scale(0.98,1.075)" text-anchor="end">2.5</text><text transform="translate(65.9,684.11) scale(0.98,1.075)" text-anchor="end">3.0</text><text transform="translate(65.9,642.88) scale(0.98,1.075)" text-anchor="end">3.5</text><text transform="translate(65.9,601.66) scale(0.98,1.075)" text-anchor="end">4.0</text><text transform="translate(82,969) scale(0.98,1.075)" text-anchor="middle">0.1</text><text transform="translate(195.86,969) scale(0.98,1.075)" text-anchor="middle">1</text><text transform="translate(309.72,969) scale(0.98,1.075)" text-anchor="middle">10</text><text transform="translate(423.58,969) scale(0.98,1.075)" text-anchor="middle">100</text><text transform="translate(537.44,969) scale(0.98,1.075)" text-anchor="middle">1000</text><text transform="translate(651.3,969) scale(0.98,1.075)" text-anchor="middle">10000</text><text transform="translate(161.58,584.9) scale(0.98,1.075)" text-anchor="middle">0.01</text><text transform="translate(275.44,584.9) scale(0.98,1.075)" text-anchor="middle">0.1</text><text transform="translate(389.3,584.9) scale(0.98,1.075)" text-anchor="middle">1</text><text transform="translate(503.16,584.9) scale(0.98,1.075)" text-anchor="middle">10</text><text transform="translate(617.02,584.9) scale(0.98,1.075)" text-anchor="middle">100</text></g>
<text x="268.5" y="556.3" style="font-family:'Liberation Serif',serif;font-size:23.5px" fill="#111">Pore radius (μm)</text>
<text x="257" y="990" style="font-family:'Liberation Serif',serif;font-size:23.5px" fill="#111"><tspan font-style="italic">T</tspan><tspan font-size="14.57" dy="6.58" dx="0.47">2</tspan><tspan dy="-6.58"> relaxation time (ms)</tspan></text>
<text transform="translate(19.7,874.2) rotate(-90)" x="-0.6" y="0" style="font-family:'Liberation Serif',serif;font-size:23.85px" fill="#111">Pore volume ratio (%)</text>
<text x="136.2" y="634.7" style="font-family:'Liberation Serif',serif;font-size:19.6px" fill="#111">Micropores</text>
<line x1="95.2" y1="645.2" x2="261" y2="645.2" stroke="#555" stroke-width="1.0" stroke-dasharray="2.4 3.0"/>
<path d="M83.7,645.2L95.2,642.2V648.2Z M272.5,645.2L261,642.2V648.2Z" fill="#000"/>
<text x="284.3" y="708.5" style="font-family:'Liberation Serif',serif;font-size:19.6px" fill="#111">Mesopores</text>
<line x1="289" y1="720.8" x2="377" y2="720.8" stroke="#555" stroke-width="1.0" stroke-dasharray="2.4 3.0"/>
<path d="M277.5,720.8L289,717.8V723.8Z M388.5,720.8L377,717.8V723.8Z" fill="#000"/>
<text x="474.3" y="794.4" style="font-family:'Liberation Serif',serif;font-size:19.6px" fill="#111">Macropores</text>
<line x1="405.8" y1="807.9" x2="637.5" y2="807.9" stroke="#555" stroke-width="1.0" stroke-dasharray="2.4 3.0"/>
<path d="M394.3,807.9L405.8,804.9V810.9Z M649,807.9L637.5,804.9V810.9Z" fill="#000"/>
<text x="211.7" y="666.3" style="font-family:'Liberation Serif',serif;font-size:20px" fill="#111">P<tspan font-size="13" dy="5" dx="1">1</tspan></text>
<text x="325" y="822.2" style="font-family:'Liberation Serif',serif;font-size:20px" fill="#111">P<tspan font-size="13" dy="5" dx="1">2</tspan></text>
<text x="425.4" y="850.2" style="font-family:'Liberation Serif',serif;font-size:20px" fill="#111">P<tspan font-size="13" dy="5" dx="1">3</tspan></text>
<text x="551.5" y="905.7" style="font-family:'Liberation Serif',serif;font-size:20px" fill="#111">P<tspan font-size="13" dy="5" dx="1">4</tspan></text>
<line x1="502.9" y1="632.1" x2="543.5" y2="632.1" stroke="#515151" stroke-width="1.6"/>
<use href="#s0" x="523.3" y="632.1"/>
<text x="547.8" y="637.38" style="font-family:'Liberation Serif',serif;font-size:16.5px" fill="#111"><tspan font-style="italic">N</tspan> = 0</text>
<line x1="502.9" y1="653.55" x2="543.5" y2="653.55" stroke="#F14040" stroke-width="1.6"/>
<use href="#s1" x="523.3" y="653.55"/>
<text x="547.8" y="658.83" style="font-family:'Liberation Serif',serif;font-size:16.5px" fill="#111"><tspan font-style="italic">N</tspan> = 10</text>
<line x1="502.9" y1="675" x2="543.5" y2="675" stroke="#1A6FDF" stroke-width="1.6"/>
<use href="#s2" x="523.3" y="675"/>
<text x="547.8" y="680.28" style="font-family:'Liberation Serif',serif;font-size:16.5px" fill="#111"><tspan font-style="italic">N</tspan> = 20</text>
<line x1="502.9" y1="696.45" x2="543.5" y2="696.45" stroke="#37AD6B" stroke-width="1.6"/>
<use href="#s3" x="523.3" y="696.45"/>
<text x="547.8" y="701.73" style="font-family:'Liberation Serif',serif;font-size:16.5px" fill="#111"><tspan font-style="italic">N</tspan> = 30</text>
<line x1="502.9" y1="717.9" x2="543.5" y2="717.9" stroke="#B177DE" stroke-width="1.6"/>
<use href="#s4" x="523.3" y="717.9"/>
<text x="547.8" y="723.18" style="font-family:'Liberation Serif',serif;font-size:16.5px" fill="#111"><tspan font-style="italic">N</tspan> = 40</text>
<line x1="502.9" y1="739.35" x2="543.5" y2="739.35" stroke="#CC9900" stroke-width="1.6"/>
<use href="#s5" x="523.3" y="739.35"/>
<text x="547.8" y="744.63" style="font-family:'Liberation Serif',serif;font-size:16.5px" fill="#111"><tspan font-style="italic">N</tspan> = 50</text>
<text x="342.3" y="1052" text-anchor="middle" style="font-family:'Liberation Mono',monospace;font-size:29.5px" fill="#111" stroke="#111" stroke-width="0.45">(b)</text><line x1="277.3" y1="1118" x2="277.3" y2="1458.7" stroke="#999" stroke-width="1.6"/>
<line x1="388.66" y1="1118" x2="388.66" y2="1458.7" stroke="#999" stroke-width="1.6"/>
<polyline points="88.1,1438.7 91.3,1438.7 94.5,1438.7 97.8,1438.7 101.0,1438.7 104.2,1438.7 107.4,1438.7 110.6,1438.7 113.8,1438.7 117.1,1438.7 120.3,1438.7 123.5,1438.7 126.7,1438.7 129.9,1438.7 133.2,1438.7 136.4,1438.7 139.6,1438.7 142.8,1438.7 146.0,1438.7 149.3,1438.7 152.5,1438.7 155.7,1438.7 158.9,1438.1 162.1,1419.3 165.3,1392.5 168.6,1363.0 171.8,1334.9 175.0,1308.4 178.2,1280.3 181.4,1252.0 184.7,1233.3 187.9,1222.9 191.1,1210.1 194.3,1202.5 197.5,1198.0 200.7,1195.8 204.0,1195.9 207.2,1198.0 210.4,1201.4 213.6,1208.4 216.8,1217.1 220.1,1227.6 223.3,1237.6 226.5,1246.3 229.7,1258.6 232.9,1270.5 236.2,1283.4 239.4,1294.5 242.6,1307.8 245.8,1321.6 249.0,1334.6 252.2,1346.6 255.5,1357.5 258.7,1367.6 261.9,1376.5 265.1,1384.3 268.3,1391.4 271.6,1395.8 274.8,1398.7 278.0,1401.2 281.2,1403.0 284.4,1403.4 287.6,1401.8 290.9,1399.5 294.1,1395.9 297.3,1391.4 300.5,1387.2 303.7,1383.0 307.0,1379.3 310.2,1376.1 313.4,1373.4 316.6,1371.3 319.8,1369.7 323.1,1368.9 326.3,1368.3 329.5,1368.0 332.7,1368.0 335.9,1368.2 339.1,1368.4 342.4,1368.8 345.6,1369.4 348.8,1370.2 352.0,1371.4 355.2,1373.0 358.5,1375.2 361.7,1378.0 364.9,1380.7 368.1,1382.9 371.3,1384.9 374.5,1386.7 377.8,1388.2 381.0,1389.5 384.2,1390.6 387.4,1391.8 390.6,1392.6 393.9,1392.1 397.1,1390.9 400.3,1390.1 403.5,1389.7 406.7,1389.4 409.9,1389.1 413.2,1389.2 416.4,1389.9 419.6,1390.9 422.8,1392.1 426.0,1393.7 429.3,1395.6 432.5,1397.5 435.7,1399.5 438.9,1401.7 442.1,1403.9 445.4,1406.3 448.6,1408.8 451.8,1411.4 455.0,1414.0 458.2,1416.5 461.4,1419.1 464.7,1422.2 467.9,1425.8 471.1,1429.0 474.3,1431.7 477.5,1434.2 480.8,1436.6 484.0,1438.5 487.2,1438.7 490.4,1438.7 493.6,1438.7 496.8,1438.7 500.1,1438.7 503.3,1438.7 506.5,1438.7 509.7,1438.7 512.9,1438.7 516.2,1438.7 519.4,1438.7 522.6,1438.7 525.8,1438.7 529.0,1438.7 532.3,1438.7 535.5,1438.7 538.7,1438.7 541.9,1438.7 545.1,1438.7 548.3,1438.7 551.6,1438.7 554.8,1438.7 558.0,1438.7 561.2,1438.7 564.4,1438.7 567.7,1438.7 570.9,1438.7 574.1,1438.7 577.3,1438.7 580.5,1438.7 583.7,1438.7 587.0,1438.7 590.2,1438.7 593.4,1438.7 596.6,1438.7 599.8,1438.7 603.1,1438.7 606.3,1438.7 609.5,1438.7 612.7,1438.7 615.9,1438.7 619.2,1438.7 622.4,1438.7 625.6,1438.7 628.8,1438.7 632.0,1438.7 635.2,1438.7 638.5,1438.7 641.7,1438.7 644.9,1438.7" fill="none" stroke="#515151" stroke-width="1.7" marker-start="url(#m0)" marker-mid="url(#m0)" marker-end="url(#m0)"/>
<polyline points="88.1,1438.7 91.3,1438.7 94.5,1438.7 97.8,1438.7 101.0,1438.7 104.2,1438.7 107.4,1438.7 110.6,1438.7 113.8,1438.7 117.1,1438.7 120.3,1438.7 123.5,1438.7 126.7,1438.7 129.9,1438.7 133.2,1438.7 136.4,1438.7 139.6,1438.7 142.8,1438.7 146.0,1438.7 149.3,1438.7 152.5,1438.7 155.7,1438.7 158.9,1425.4 162.1,1392.0 165.3,1365.3 168.6,1337.4 171.8,1310.6 175.0,1287.8 178.2,1270.1 181.4,1253.9 184.7,1240.9 187.9,1232.0 191.1,1222.8 194.3,1218.2 197.5,1214.9 200.7,1214.4 204.0,1218.4 207.2,1223.3 210.4,1229.8 213.6,1238.0 216.8,1246.9 220.1,1254.7 223.3,1266.8 226.5,1282.0 229.7,1300.6 232.9,1312.6 236.2,1322.9 239.4,1335.4 242.6,1345.5 245.8,1353.0 249.0,1360.6 252.2,1368.7 255.5,1374.3 258.7,1378.1 261.9,1381.1 265.1,1383.8 268.3,1385.3 271.6,1386.0 274.8,1386.2 278.0,1385.7 281.2,1384.6 284.4,1383.2 287.6,1381.2 290.9,1379.2 294.1,1377.2 297.3,1375.2 300.5,1373.5 303.7,1372.0 307.0,1370.7 310.2,1369.6 313.4,1368.4 316.6,1367.2 319.8,1366.4 323.1,1366.1 326.3,1365.9 329.5,1365.8 332.7,1365.6 335.9,1365.4 339.1,1365.2 342.4,1365.1 345.6,1365.1 348.8,1365.0 352.0,1365.0 355.2,1365.0 358.5,1365.6 361.7,1367.1 364.9,1368.7 368.1,1369.8 371.3,1370.8 374.5,1371.7 377.8,1372.7 381.0,1373.7 384.2,1374.7 387.4,1375.5 390.6,1376.1 393.9,1376.7 397.1,1377.4 400.3,1378.1 403.5,1378.9 406.7,1379.7 409.9,1380.5 413.2,1381.3 416.4,1382.1 419.6,1383.1 422.8,1384.2 426.0,1385.6 429.3,1387.5 432.5,1389.7 435.7,1391.9 438.9,1394.1 442.1,1396.5 445.4,1399.2 448.6,1402.4 451.8,1405.8 455.0,1409.5 458.2,1413.4 461.4,1417.3 464.7,1421.1 467.9,1424.6 471.1,1427.8 474.3,1430.2 477.5,1432.3 480.8,1433.8 484.0,1435.0 487.2,1435.9 490.4,1436.6 493.6,1437.0 496.8,1437.4 500.1,1437.7 503.3,1438.1 506.5,1438.5 509.7,1438.7 512.9,1438.7 516.2,1438.7 519.4,1438.7 522.6,1438.7 525.8,1438.7 529.0,1438.7 532.3,1438.7 535.5,1438.6 538.7,1438.0 541.9,1437.0 545.1,1435.9 548.3,1434.9 551.6,1434.3 554.8,1434.3 558.0,1435.0 561.2,1436.0 564.4,1437.1 567.7,1438.1 570.9,1438.7 574.1,1438.7 577.3,1438.7 580.5,1438.7 583.7,1438.7 587.0,1438.7 590.2,1438.7 593.4,1438.7 596.6,1438.7 599.8,1438.7 603.1,1438.7 606.3,1438.7 609.5,1438.7 612.7,1438.7 615.9,1438.7 619.2,1438.7 622.4,1438.7 625.6,1438.7 628.8,1438.7 632.0,1438.7 635.2,1438.7 638.5,1438.7 641.7,1438.7 644.9,1438.7" fill="none" stroke="#F14040" stroke-width="1.7" marker-start="url(#m1)" marker-mid="url(#m1)" marker-end="url(#m1)"/>
<polyline points="88.1,1438.7 91.3,1438.7 94.5,1438.7 97.8,1438.7 101.0,1438.7 104.2,1438.7 107.4,1438.7 110.6,1438.7 113.8,1438.7 117.1,1438.7 120.3,1438.7 123.5,1438.7 126.7,1438.7 129.9,1438.7 133.2,1438.7 136.4,1438.7 139.6,1438.7 142.8,1438.7 146.0,1438.7 149.3,1438.7 152.5,1438.7 155.7,1438.7 158.9,1438.7 162.1,1438.7 165.3,1418.6 168.6,1394.4 171.8,1366.0 175.0,1344.6 178.2,1324.1 181.4,1305.0 184.7,1288.5 187.9,1276.6 191.1,1263.9 194.3,1254.8 197.5,1249.4 200.7,1245.6 204.0,1244.8 207.2,1246.9 210.4,1249.9 213.6,1253.9 216.8,1260.9 220.1,1266.8 223.3,1272.0 226.5,1276.7 229.7,1282.1 232.9,1289.2 236.2,1296.2 239.4,1302.7 242.6,1309.2 245.8,1316.9 249.0,1324.7 252.2,1332.2 255.5,1338.8 258.7,1344.5 261.9,1349.4 265.1,1353.6 268.3,1357.2 271.6,1359.7 274.8,1361.3 278.0,1361.2 281.2,1360.7 284.4,1359.9 287.6,1358.8 290.9,1357.9 294.1,1357.3 297.3,1356.7 300.5,1356.0 303.7,1355.2 307.0,1354.3 310.2,1353.2 313.4,1351.7 316.6,1350.0 319.8,1349.1 323.1,1348.5 326.3,1348.9 329.5,1350.3 332.7,1352.2 335.9,1354.2 339.1,1355.8 342.4,1357.3 345.6,1359.0 348.8,1360.9 352.0,1362.9 355.2,1364.9 358.5,1366.8 361.7,1368.7 364.9,1370.6 368.1,1372.6 371.3,1374.6 374.5,1376.5 377.8,1378.1 381.0,1379.5 384.2,1380.7 387.4,1381.6 390.6,1382.4 393.9,1383.0 397.1,1383.5 400.3,1383.9 403.5,1384.2 406.7,1384.6 409.9,1385.1 413.2,1385.9 416.4,1387.0 419.6,1388.4 422.8,1389.9 426.0,1391.6 429.3,1393.5 432.5,1395.6 435.7,1397.6 438.9,1399.7 442.1,1401.9 445.4,1404.3 448.6,1407.0 451.8,1409.9 455.0,1413.0 458.2,1416.5 461.4,1420.2 464.7,1423.7 467.9,1426.8 471.1,1429.9 474.3,1432.5 477.5,1434.9 480.8,1437.2 484.0,1438.6 487.2,1438.7 490.4,1438.7 493.6,1438.7 496.8,1438.7 500.1,1438.7 503.3,1438.7 506.5,1438.7 509.7,1438.7 512.9,1438.7 516.2,1438.7 519.4,1438.7 522.6,1438.7 525.8,1438.7 529.0,1438.7 532.3,1438.7 535.5,1438.7 538.7,1438.7 541.9,1438.7 545.1,1438.7 548.3,1438.7 551.6,1438.7 554.8,1438.7 558.0,1438.7 561.2,1438.7 564.4,1438.7 567.7,1438.7 570.9,1438.7 574.1,1438.7 577.3,1438.7 580.5,1438.7 583.7,1438.7 587.0,1438.7 590.2,1438.7 593.4,1438.7 596.6,1438.7 599.8,1438.7 603.1,1438.7 606.3,1438.7 609.5,1438.7 612.7,1438.7 615.9,1438.7 619.2,1438.7 622.4,1438.7 625.6,1438.7 628.8,1438.7 632.0,1438.7 635.2,1438.7 638.5,1438.7 641.7,1438.7 644.9,1438.7" fill="none" stroke="#1A6FDF" stroke-width="1.7" marker-start="url(#m2)" marker-mid="url(#m2)" marker-end="url(#m2)"/>
<polyline points="88.1,1438.7 91.3,1438.7 94.5,1438.7 97.8,1438.7 101.0,1438.7 104.2,1438.7 107.4,1438.7 110.6,1438.7 113.8,1438.7 117.1,1438.7 120.3,1438.7 123.5,1438.7 126.7,1438.7 129.9,1438.7 133.2,1438.7 136.4,1438.7 139.6,1438.7 142.8,1438.7 146.0,1438.7 149.3,1438.7 152.5,1430.2 155.7,1411.6 158.9,1393.5 162.1,1374.3 165.3,1354.7 168.6,1335.6 171.8,1318.2 175.0,1301.7 178.2,1289.7 181.4,1278.3 184.7,1265.1 187.9,1255.4 191.1,1248.3 194.3,1242.7 197.5,1239.9 200.7,1238.1 204.0,1237.7 207.2,1239.1 210.4,1241.5 213.6,1246.7 216.8,1252.6 220.1,1259.2 223.3,1266.3 226.5,1274.7 229.7,1283.9 232.9,1292.7 236.2,1300.3 239.4,1308.4 242.6,1316.9 245.8,1325.4 249.0,1333.9 252.2,1343.0 255.5,1351.8 258.7,1358.9 261.9,1364.7 265.1,1368.3 268.3,1370.7 271.6,1370.9 274.8,1370.4 278.0,1369.1 281.2,1365.3 284.4,1360.9 287.6,1356.0 290.9,1352.1 294.1,1349.6 297.3,1347.9 300.5,1347.1 303.7,1346.6 307.0,1346.6 310.2,1347.9 313.4,1349.8 316.6,1352.9 319.8,1356.8 323.1,1361.3 326.3,1366.3 329.5,1371.6 332.7,1376.1 335.9,1380.0 339.1,1383.3 342.4,1387.0 345.6,1391.7 348.8,1394.9 352.0,1397.3 355.2,1398.5 358.5,1398.4 361.7,1398.0 364.9,1396.0 368.1,1392.1 371.3,1388.6 374.5,1385.0 377.8,1381.2 381.0,1377.3 384.2,1374.0 387.4,1371.2 390.6,1369.5 393.9,1368.3 397.1,1368.1 400.3,1369.3 403.5,1370.4 406.7,1371.5 409.9,1373.1 413.2,1375.4 416.4,1378.5 419.6,1381.9 422.8,1386.2 426.0,1390.7 429.3,1395.0 432.5,1399.3 435.7,1404.0 438.9,1408.2 442.1,1410.6 445.4,1412.3 448.6,1413.6 451.8,1414.4 455.0,1415.5 458.2,1417.5 461.4,1420.2 464.7,1422.6 467.9,1425.0 471.1,1427.1 474.3,1428.5 477.5,1429.6 480.8,1430.4 484.0,1431.0 487.2,1431.3 490.4,1431.9 493.6,1433.1 496.8,1435.4 500.1,1438.7 503.3,1438.7 506.5,1438.7 509.7,1438.7 512.9,1438.7 516.2,1438.7 519.4,1438.7 522.6,1438.7 525.8,1438.7 529.0,1438.7 532.3,1438.7 535.5,1438.7 538.7,1438.7 541.9,1438.7 545.1,1438.7 548.3,1438.7 551.6,1438.7 554.8,1438.7 558.0,1438.7 561.2,1438.7 564.4,1438.7 567.7,1438.7 570.9,1438.7 574.1,1438.7 577.3,1438.7 580.5,1438.7 583.7,1438.7 587.0,1438.7 590.2,1438.7 593.4,1438.7 596.6,1438.7 599.8,1438.7 603.1,1438.7 606.3,1438.7 609.5,1438.7 612.7,1438.7 615.9,1438.7 619.2,1438.7 622.4,1438.7 625.6,1438.7 628.8,1438.7 632.0,1438.7 635.2,1438.7 638.5,1438.7 641.7,1438.7 644.9,1438.7" fill="none" stroke="#37AD6B" stroke-width="1.7" marker-start="url(#m3)" marker-mid="url(#m3)" marker-end="url(#m3)"/>
<polyline points="88.1,1438.7 91.3,1438.7 94.5,1438.7 97.8,1438.7 101.0,1438.7 104.2,1438.7 107.4,1438.7 110.6,1438.7 113.8,1438.7 117.1,1438.7 120.3,1438.7 123.5,1438.7 126.7,1438.7 129.9,1438.7 133.2,1438.7 136.4,1438.7 139.6,1438.7 142.8,1437.8 146.0,1416.4 149.3,1395.9 152.5,1375.7 155.7,1353.6 158.9,1329.0 162.1,1308.6 165.3,1290.6 168.6,1273.5 171.8,1257.7 175.0,1239.3 178.2,1227.3 181.4,1213.7 184.7,1205.9 187.9,1200.2 191.1,1196.9 194.3,1196.4 197.5,1197.9 200.7,1201.7 204.0,1206.6 207.2,1213.0 210.4,1223.0 213.6,1233.5 216.8,1246.1 220.1,1258.3 223.3,1271.5 226.5,1282.8 229.7,1296.3 232.9,1306.7 236.2,1314.8 239.4,1324.8 242.6,1332.7 245.8,1339.1 249.0,1344.9 252.2,1350.0 255.5,1354.3 258.7,1358.1 261.9,1361.1 265.1,1363.3 268.3,1365.0 271.6,1366.2 274.8,1367.0 278.0,1367.1 281.2,1367.1 284.4,1367.1 287.6,1366.2 290.9,1365.1 294.1,1364.3 297.3,1363.7 300.5,1363.1 303.7,1362.8 307.0,1362.5 310.2,1362.2 313.4,1361.8 316.6,1361.4 319.8,1361.1 323.1,1361.1 326.3,1361.4 329.5,1361.8 332.7,1362.6 335.9,1364.3 339.1,1365.4 342.4,1366.4 345.6,1367.8 348.8,1369.4 352.0,1371.4 355.2,1374.0 358.5,1378.2 361.7,1383.5 364.9,1388.6 368.1,1394.5 371.3,1402.5 374.5,1408.9 377.8,1413.8 381.0,1418.3 384.2,1422.5 387.4,1426.7 390.6,1430.5 393.9,1433.6 397.1,1435.4 400.3,1436.5 403.5,1436.8 406.7,1436.6 409.9,1436.1 413.2,1435.4 416.4,1434.0 419.6,1432.0 422.8,1429.7 426.0,1426.4 429.3,1422.9 432.5,1419.7 435.7,1416.4 438.9,1414.6 442.1,1413.8 445.4,1413.7 448.6,1415.7 451.8,1419.0 455.0,1424.6 458.2,1430.0 461.4,1435.0 464.7,1438.5 467.9,1438.7 471.1,1438.7 474.3,1438.7 477.5,1438.7 480.8,1438.7 484.0,1438.7 487.2,1438.7 490.4,1438.7 493.6,1438.7 496.8,1438.6 500.1,1438.2 503.3,1437.6 506.5,1436.9 509.7,1436.2 512.9,1435.7 516.2,1435.5 519.4,1435.7 522.6,1436.2 525.8,1436.9 529.0,1437.7 532.3,1438.3 535.5,1438.7 538.7,1438.7 541.9,1438.7 545.1,1438.7 548.3,1438.7 551.6,1438.7 554.8,1438.7 558.0,1438.7 561.2,1438.7 564.4,1438.7 567.7,1438.7 570.9,1438.7 574.1,1438.7 577.3,1438.7 580.5,1438.7 583.7,1438.7 587.0,1438.7 590.2,1438.7 593.4,1438.7 596.6,1438.7 599.8,1438.7 603.1,1438.7 606.3,1438.7 609.5,1438.7 612.7,1438.7 615.9,1438.7 619.2,1438.7 622.4,1438.7 625.6,1438.7 628.8,1438.7 632.0,1438.7 635.2,1438.7 638.5,1438.7 641.7,1438.7 644.9,1438.7" fill="none" stroke="#B177DE" stroke-width="1.7" marker-start="url(#m4)" marker-mid="url(#m4)" marker-end="url(#m4)"/>
<polyline points="88.1,1438.7 91.3,1438.7 94.5,1438.7 97.8,1438.7 101.0,1438.7 104.2,1438.7 107.4,1438.7 110.6,1438.7 113.8,1438.7 117.1,1438.7 120.3,1438.7 123.5,1438.7 126.7,1438.7 129.9,1438.7 133.2,1438.7 136.4,1438.7 139.6,1438.7 142.8,1438.7 146.0,1438.7 149.3,1438.7 152.5,1438.7 155.7,1438.7 158.9,1438.7 162.1,1438.7 165.3,1396.2 168.6,1370.4 171.8,1344.5 175.0,1316.3 178.2,1295.4 181.4,1274.5 184.7,1255.0 187.9,1235.9 191.1,1224.5 194.3,1210.4 197.5,1202.9 200.7,1199.7 204.0,1199.2 207.2,1201.5 210.4,1205.4 213.6,1210.9 216.8,1218.7 220.1,1228.3 223.3,1239.5 226.5,1252.6 229.7,1264.9 232.9,1277.1 236.2,1291.7 239.4,1304.6 242.6,1321.0 245.8,1335.0 249.0,1346.0 252.2,1356.4 255.5,1368.0 258.7,1377.0 261.9,1384.6 265.1,1391.1 268.3,1396.3 271.6,1400.2 274.8,1402.3 278.0,1403.0 281.2,1402.8 284.4,1400.5 287.6,1396.4 290.9,1391.0 294.1,1385.8 297.3,1380.3 300.5,1374.2 303.7,1368.6 307.0,1363.6 310.2,1359.3 313.4,1355.4 316.6,1352.7 319.8,1350.7 323.1,1350.1 326.3,1349.9 329.5,1350.5 332.7,1352.4 335.9,1354.9 339.1,1358.2 342.4,1362.0 345.6,1366.5 348.8,1371.2 352.0,1376.0 355.2,1381.0 358.5,1386.4 361.7,1391.6 364.9,1396.7 368.1,1399.9 371.3,1401.3 374.5,1401.6 377.8,1400.1 381.0,1398.1 384.2,1395.5 387.4,1392.1 390.6,1387.6 393.9,1383.2 397.1,1378.8 400.3,1374.9 403.5,1371.0 406.7,1368.2 409.9,1366.4 413.2,1365.1 416.4,1364.5 419.6,1365.1 422.8,1366.6 426.0,1368.9 429.3,1372.5 432.5,1376.7 435.7,1381.7 438.9,1386.8 442.1,1392.2 445.4,1397.8 448.6,1403.7 451.8,1409.2 455.0,1414.1 458.2,1419.8 461.4,1425.7 464.7,1430.5 467.9,1434.9 471.1,1438.7 474.3,1438.7 477.5,1438.7 480.8,1438.7 484.0,1438.7 487.2,1438.7 490.4,1438.7 493.6,1438.7 496.8,1437.7 500.1,1435.5 503.3,1433.2 506.5,1431.8 509.7,1430.8 512.9,1430.0 516.2,1429.7 519.4,1430.0 522.6,1430.8 525.8,1431.9 529.0,1433.7 532.3,1436.9 535.5,1438.7 538.7,1438.7 541.9,1438.7 545.1,1438.7 548.3,1438.7 551.6,1438.7 554.8,1438.7 558.0,1438.7 561.2,1438.7 564.4,1438.7 567.7,1438.7 570.9,1438.7 574.1,1438.7 577.3,1438.7 580.5,1438.7 583.7,1438.7 587.0,1438.7 590.2,1438.7 593.4,1438.7 596.6,1438.7 599.8,1438.7 603.1,1438.7 606.3,1438.7 609.5,1438.7 612.7,1438.7 615.9,1438.7 619.2,1438.7 622.4,1438.7 625.6,1438.7 628.8,1438.7 632.0,1438.7 635.2,1438.7 638.5,1438.7 641.7,1438.7 644.9,1438.7" fill="none" stroke="#CC9900" stroke-width="1.7" marker-start="url(#m5)" marker-mid="url(#m5)" marker-end="url(#m5)"/>
<path d="M88.1,1118H644.9V1458.7H88.1Z" fill="none" stroke="#111" stroke-width="1.9"/>
<path d="M83.8,1458.7H88.1M79.6,1438.7H88.1M83.8,1418.65H88.1M79.6,1398.6H88.1M83.8,1378.55H88.1M79.6,1358.5H88.1M83.8,1338.45H88.1M79.6,1318.4H88.1M83.8,1298.35H88.1M79.6,1278.3H88.1M83.8,1258.25H88.1M79.6,1238.2H88.1M83.8,1218.15H88.1M79.6,1198.1H88.1M83.8,1178.05H88.1M79.6,1158H88.1M83.8,1137.95H88.1M79.6,1117.9H88.1M88.1,1458.7v-8.5M121.62,1458.7v-4.3M141.23,1458.7v-4.3M155.15,1458.7v-4.3M165.94,1458.7v-4.3M174.75,1458.7v-4.3M182.21,1458.7v-4.3M188.67,1458.7v-4.3M194.36,1458.7v-4.3M199.46,1458.7v-8.5M232.98,1458.7v-4.3M252.59,1458.7v-4.3M266.51,1458.7v-4.3M277.3,1458.7v-4.3M286.11,1458.7v-4.3M293.57,1458.7v-4.3M300.03,1458.7v-4.3M305.72,1458.7v-4.3M310.82,1458.7v-8.5M344.34,1458.7v-4.3M363.95,1458.7v-4.3M377.87,1458.7v-4.3M388.66,1458.7v-4.3M397.47,1458.7v-4.3M404.93,1458.7v-4.3M411.39,1458.7v-4.3M417.08,1458.7v-4.3M422.18,1458.7v-8.5M455.7,1458.7v-4.3M475.31,1458.7v-4.3M489.23,1458.7v-4.3M500.02,1458.7v-4.3M508.83,1458.7v-4.3M516.29,1458.7v-4.3M522.75,1458.7v-4.3M528.44,1458.7v-4.3M533.54,1458.7v-8.5M567.06,1458.7v-4.3M586.67,1458.7v-4.3M600.59,1458.7v-4.3M611.38,1458.7v-4.3M620.19,1458.7v-4.3M627.65,1458.7v-4.3M634.11,1458.7v-4.3M639.8,1458.7v-4.3M107.71,1118v4.3M121.62,1118v4.3M132.41,1118v4.3M141.23,1118v4.3M148.69,1118v4.3M155.15,1118v4.3M160.84,1118v4.3M165.94,1118v8.5M199.46,1118v4.3M219.07,1118v4.3M232.98,1118v4.3M243.77,1118v4.3M252.59,1118v4.3M260.05,1118v4.3M266.51,1118v4.3M272.2,1118v4.3M277.3,1118v8.5M310.82,1118v4.3M330.43,1118v4.3M344.34,1118v4.3M355.13,1118v4.3M363.95,1118v4.3M371.41,1118v4.3M377.87,1118v4.3M383.56,1118v4.3M388.66,1118v8.5M422.18,1118v4.3M441.79,1118v4.3M455.7,1118v4.3M466.49,1118v4.3M475.31,1118v4.3M482.77,1118v4.3M489.23,1118v4.3M494.92,1118v4.3M500.02,1118v8.5M533.54,1118v4.3M553.15,1118v4.3M567.06,1118v4.3M577.85,1118v4.3M586.67,1118v4.3M594.13,1118v4.3M600.59,1118v4.3M606.28,1118v4.3M611.38,1118v8.5" stroke="#111" stroke-width="1.9" fill="none"/>
<g style="font-family:'Liberation Serif',serif;font-size:22.8px" fill="#111"><text transform="translate(72.4,1446.22) scale(0.98,1.075)" text-anchor="end">0.0</text><text transform="translate(72.4,1406.12) scale(0.98,1.075)" text-anchor="end">0.5</text><text transform="translate(72.4,1366.02) scale(0.98,1.075)" text-anchor="end">1.0</text><text transform="translate(72.4,1325.92) scale(0.98,1.075)" text-anchor="end">1.5</text><text transform="translate(72.4,1285.82) scale(0.98,1.075)" text-anchor="end">2.0</text><text transform="translate(72.4,1245.72) scale(0.98,1.075)" text-anchor="end">2.5</text><text transform="translate(72.4,1205.62) scale(0.98,1.075)" text-anchor="end">3.0</text><text transform="translate(72.4,1165.52) scale(0.98,1.075)" text-anchor="end">3.5</text><text transform="translate(72.4,1125.42) scale(0.98,1.075)" text-anchor="end">4.0</text><text transform="translate(88.1,1482.4) scale(0.98,1.075)" text-anchor="middle">0.1</text><text transform="translate(199.46,1482.4) scale(0.98,1.075)" text-anchor="middle">1</text><text transform="translate(310.82,1482.4) scale(0.98,1.075)" text-anchor="middle">10</text><text transform="translate(422.18,1482.4) scale(0.98,1.075)" text-anchor="middle">100</text><text transform="translate(533.54,1482.4) scale(0.98,1.075)" text-anchor="middle">1000</text><text transform="translate(644.9,1482.4) scale(0.98,1.075)" text-anchor="middle">10000</text><text transform="translate(165.94,1109.6) scale(0.98,1.075)" text-anchor="middle">0.01</text><text transform="translate(277.3,1109.6) scale(0.98,1.075)" text-anchor="middle">0.1</text><text transform="translate(388.66,1109.6) scale(0.98,1.075)" text-anchor="middle">1</text><text transform="translate(500.02,1109.6) scale(0.98,1.075)" text-anchor="middle">10</text><text transform="translate(611.38,1109.6) scale(0.98,1.075)" text-anchor="middle">100</text></g>
<text x="268.5" y="1081" style="font-family:'Liberation Serif',serif;font-size:22.8px" fill="#111">Pore radius (mm)</text>
<text x="258.8" y="1503.5" style="font-family:'Liberation Serif',serif;font-size:22.8px" fill="#111"><tspan font-style="italic">T</tspan><tspan font-size="14.14" dy="6.38" dx="0.46">2</tspan><tspan dy="-6.38"> relaxation time (ms)</tspan></text>
<text transform="translate(27.6,1391.1) rotate(-90)" x="-0.6" y="0" style="font-family:'Liberation Serif',serif;font-size:23.3px" fill="#111">Pore volume ratio (%)</text>
<text x="140.8" y="1157.8" style="font-family:'Liberation Serif',serif;font-size:19.2px" fill="#111">Micropores</text>
<line x1="101" y1="1168" x2="262.7" y2="1168" stroke="#555" stroke-width="1.0" stroke-dasharray="2.4 3.0"/>
<path d="M89.5,1168L101,1165V1171Z M274.2,1168L262.7,1165V1171Z" fill="#000"/>
<text x="286.2" y="1230.2" style="font-family:'Liberation Serif',serif;font-size:19.2px" fill="#111">Mesopores</text>
<line x1="289.7" y1="1241.6" x2="376.3" y2="1241.6" stroke="#555" stroke-width="1.0" stroke-dasharray="2.4 3.0"/>
<path d="M278.2,1241.6L289.7,1238.6V1244.6Z M387.8,1241.6L376.3,1238.6V1244.6Z" fill="#000"/>
<text x="470.3" y="1295.8" style="font-family:'Liberation Serif',serif;font-size:19.2px" fill="#111">Macropores</text>
<line x1="405.8" y1="1306.8" x2="628.9" y2="1306.8" stroke="#555" stroke-width="1.0" stroke-dasharray="2.4 3.0"/>
<path d="M394.3,1306.8L405.8,1303.8V1309.8Z M640.4,1306.8L628.9,1303.8V1309.8Z" fill="#000"/>
<text x="214" y="1189.2" style="font-family:'Liberation Serif',serif;font-size:20px" fill="#111">P<tspan font-size="13" dy="5" dx="1">1</tspan></text>
<text x="325" y="1339.9" style="font-family:'Liberation Serif',serif;font-size:20px" fill="#111">P<tspan font-size="13" dy="5" dx="1">2</tspan></text>
<text x="416.1" y="1353.9" style="font-family:'Liberation Serif',serif;font-size:20px" fill="#111">P<tspan font-size="13" dy="5" dx="1">3</tspan></text>
<text x="521.2" y="1418.7" style="font-family:'Liberation Serif',serif;font-size:20px" fill="#111">P<tspan font-size="13" dy="5" dx="1">4</tspan></text>
<line x1="490.8" y1="1140.2" x2="530.3" y2="1140.2" stroke="#515151" stroke-width="1.6"/>
<use href="#s0" x="510.7" y="1140.2"/>
<text x="534.8" y="1145.32" style="font-family:'Liberation Serif',serif;font-size:16.0px" fill="#111"><tspan font-style="italic">N</tspan> = 0</text>
<line x1="490.8" y1="1161.06" x2="530.3" y2="1161.06" stroke="#F14040" stroke-width="1.6"/>
<use href="#s1" x="510.7" y="1161.06"/>
<text x="534.8" y="1166.18" style="font-family:'Liberation Serif',serif;font-size:16.0px" fill="#111"><tspan font-style="italic">N</tspan> = 10</text>
<line x1="490.8" y1="1181.92" x2="530.3" y2="1181.92" stroke="#1A6FDF" stroke-width="1.6"/>
<use href="#s2" x="510.7" y="1181.92"/>
<text x="534.8" y="1187.04" style="font-family:'Liberation Serif',serif;font-size:16.0px" fill="#111"><tspan font-style="italic">N</tspan> = 20</text>
<line x1="490.8" y1="1202.78" x2="530.3" y2="1202.78" stroke="#37AD6B" stroke-width="1.6"/>
<use href="#s3" x="510.7" y="1202.78"/>
<text x="534.8" y="1207.9" style="font-family:'Liberation Serif',serif;font-size:16.0px" fill="#111"><tspan font-style="italic">N</tspan> = 30</text>
<line x1="490.8" y1="1223.64" x2="530.3" y2="1223.64" stroke="#B177DE" stroke-width="1.6"/>
<use href="#s4" x="510.7" y="1223.64"/>
<text x="534.8" y="1228.76" style="font-family:'Liberation Serif',serif;font-size:16.0px" fill="#111"><tspan font-style="italic">N</tspan> = 40</text>
<line x1="490.8" y1="1244.5" x2="530.3" y2="1244.5" stroke="#CC9900" stroke-width="1.6"/>
<use href="#s5" x="510.7" y="1244.5"/>
<text x="534.8" y="1249.62" style="font-family:'Liberation Serif',serif;font-size:16.0px" fill="#111"><tspan font-style="italic">N</tspan> = 50</text>
<text x="342.3" y="1566.8" text-anchor="middle" style="font-family:'Liberation Mono',monospace;font-size:29.5px" fill="#111" stroke="#111" stroke-width="0.45">(c)</text>
</svg>
</body></html>
